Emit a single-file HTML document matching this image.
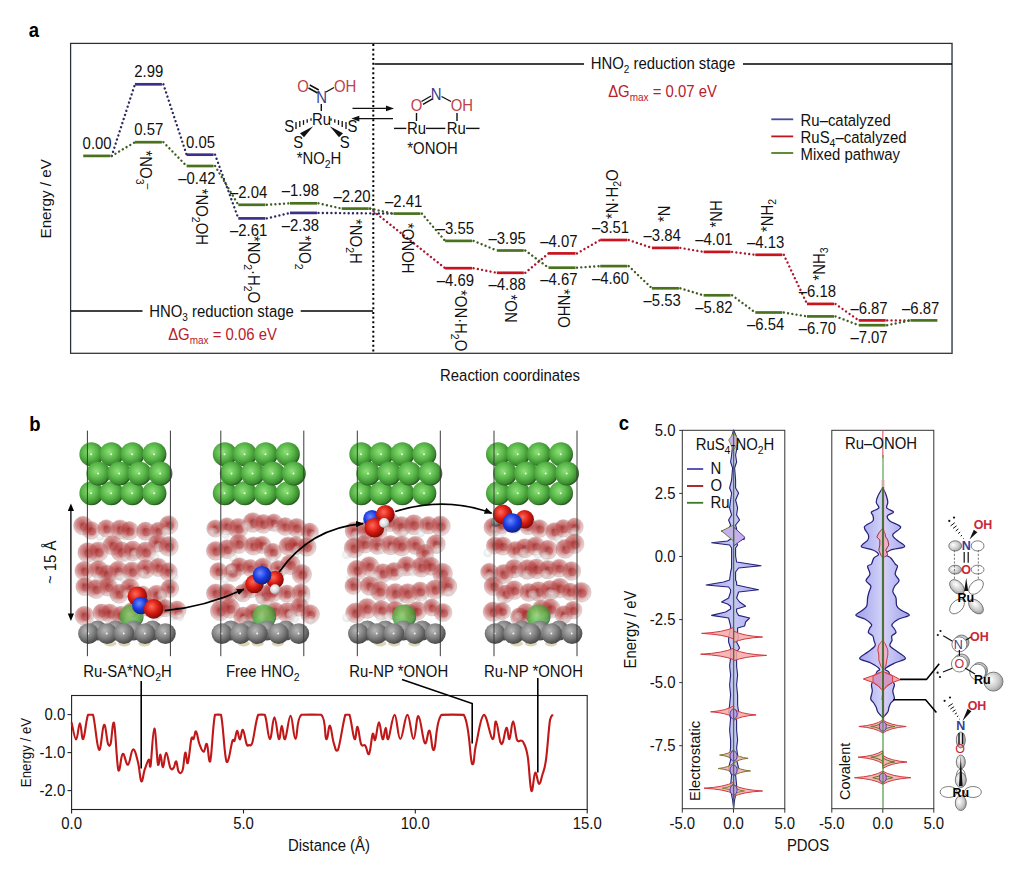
<!DOCTYPE html>
<html><head><meta charset="utf-8"><style>
html,body{margin:0;padding:0;background:#fff;}
svg{display:block;}
text{font-family:"Liberation Sans",sans-serif;}
</style></head><body>
<svg width="1024" height="888" viewBox="0 0 1024 888" font-family="Liberation Sans, sans-serif">
<rect width="1024" height="888" fill="#fff"/>
<text transform="translate(34.0,36.9) scale(1,1.05)" font-size="18.5" text-anchor="middle" fill="#000" stroke="#000" stroke-width="0" font-weight="bold" >a</text>
<rect x="70.6" y="43.4" width="881.5" height="309.9" fill="none" stroke="#2a3038" stroke-width="1.25"/>
<line x1="952.1" y1="44" x2="952.1" y2="352.6" stroke="#6a7078" stroke-width="1.5"/>
<line x1="373.3" y1="44" x2="373.3" y2="352" stroke="#000" stroke-width="2" stroke-dasharray="2 2.7"/>
<line x1="374.5" y1="64" x2="584" y2="64" stroke="#000" stroke-width="1.6"/>
<line x1="743" y1="64" x2="952" y2="64" stroke="#000" stroke-width="1.6"/>
<text transform="translate(663.0,69.2) scale(1,1.05)" font-size="14.9" text-anchor="middle" fill="#111" stroke="#111" stroke-width="0" font-weight="normal" >HNO<tspan font-size="10" dy="4">2</tspan><tspan dy="-4">​</tspan> reduction stage</text>
<text transform="translate(662.5,96.5) scale(1,1.05)" font-size="14.9" text-anchor="middle" fill="#b8202a" stroke="#b8202a" stroke-width="0" font-weight="normal" >ΔG<tspan font-size="10" dy="4">max</tspan><tspan dy="-4">​</tspan> = 0.07 eV</text>
<line x1="71" y1="311" x2="142.5" y2="311" stroke="#000" stroke-width="1.6"/>
<line x1="300.7" y1="311" x2="373" y2="311" stroke="#000" stroke-width="1.6"/>
<text transform="translate(221.5,316.6) scale(1,1.05)" font-size="14.9" text-anchor="middle" fill="#111" stroke="#111" stroke-width="0" font-weight="normal" >HNO<tspan font-size="10" dy="4">3</tspan><tspan dy="-4">​</tspan> reduction stage</text>
<text transform="translate(222.5,339.5) scale(1,1.05)" font-size="14.9" text-anchor="middle" fill="#b8202a" stroke="#b8202a" stroke-width="0" font-weight="normal" >ΔG<tspan font-size="10" dy="4">max</tspan><tspan dy="-4">​</tspan> = 0.06 eV</text>
<text transform="translate(50.6,198.8) rotate(-90)" font-size="15.2" text-anchor="middle" fill="#111">Energy / eV</text>
<text transform="translate(510.0,380.5) scale(1,1.05)" font-size="14.9" text-anchor="middle" fill="#111" stroke="#111" stroke-width="0" font-weight="normal" >Reaction coordinates</text>
<line x1="370.2" y1="208.6" x2="445.1" y2="268.2" stroke="#a81830" stroke-width="2.4" stroke-linecap="round" stroke-dasharray="0.01 4.3"/>
<line x1="473.6" y1="268.2" x2="496.8" y2="272.8" stroke="#a81830" stroke-width="2.4" stroke-linecap="round" stroke-dasharray="0.01 4.3"/>
<line x1="525.3" y1="272.8" x2="548.5" y2="253.4" stroke="#a81830" stroke-width="2.4" stroke-linecap="round" stroke-dasharray="0.01 4.3"/>
<line x1="577.0" y1="253.4" x2="600.2" y2="240.0" stroke="#a81830" stroke-width="2.4" stroke-linecap="round" stroke-dasharray="0.01 4.3"/>
<line x1="628.7" y1="240.0" x2="651.9" y2="247.9" stroke="#a81830" stroke-width="2.4" stroke-linecap="round" stroke-dasharray="0.01 4.3"/>
<line x1="680.4" y1="247.9" x2="703.6" y2="251.9" stroke="#a81830" stroke-width="2.4" stroke-linecap="round" stroke-dasharray="0.01 4.3"/>
<line x1="732.1" y1="251.9" x2="755.3" y2="254.8" stroke="#a81830" stroke-width="2.4" stroke-linecap="round" stroke-dasharray="0.01 4.3"/>
<line x1="783.8" y1="254.8" x2="807.0" y2="303.9" stroke="#a81830" stroke-width="2.4" stroke-linecap="round" stroke-dasharray="0.01 4.3"/>
<line x1="835.5" y1="303.9" x2="858.7" y2="320.4" stroke="#a81830" stroke-width="2.4" stroke-linecap="round" stroke-dasharray="0.01 4.3"/>
<line x1="887.2" y1="320.4" x2="910.4" y2="320.4" stroke="#a81830" stroke-width="2.4" stroke-linecap="round" stroke-dasharray="0.01 4.3"/>
<line x1="445.1" y1="268.2" x2="472.1" y2="268.2" stroke="#c8141e" stroke-width="2.7"/>
<line x1="496.8" y1="272.8" x2="523.8" y2="272.8" stroke="#c8141e" stroke-width="2.7"/>
<line x1="548.5" y1="253.4" x2="575.5" y2="253.4" stroke="#c8141e" stroke-width="2.7"/>
<line x1="600.2" y1="240.0" x2="627.2" y2="240.0" stroke="#c8141e" stroke-width="2.7"/>
<line x1="651.9" y1="247.9" x2="678.9" y2="247.9" stroke="#c8141e" stroke-width="2.7"/>
<line x1="703.6" y1="251.9" x2="730.6" y2="251.9" stroke="#c8141e" stroke-width="2.7"/>
<line x1="755.3" y1="254.8" x2="782.3" y2="254.8" stroke="#c8141e" stroke-width="2.7"/>
<line x1="807.0" y1="303.9" x2="834.0" y2="303.9" stroke="#c8141e" stroke-width="2.7"/>
<line x1="858.7" y1="320.4" x2="885.7" y2="320.4" stroke="#c8141e" stroke-width="2.7"/>
<line x1="111.7" y1="155.9" x2="134.9" y2="84.3" stroke="#2a2a62" stroke-width="2.4" stroke-linecap="round" stroke-dasharray="0.01 4.3"/>
<line x1="163.4" y1="84.3" x2="186.6" y2="154.7" stroke="#2a2a62" stroke-width="2.4" stroke-linecap="round" stroke-dasharray="0.01 4.3"/>
<line x1="215.1" y1="154.7" x2="238.3" y2="218.4" stroke="#2a2a62" stroke-width="2.4" stroke-linecap="round" stroke-dasharray="0.01 4.3"/>
<line x1="266.8" y1="218.4" x2="290.0" y2="212.9" stroke="#2a2a62" stroke-width="2.4" stroke-linecap="round" stroke-dasharray="0.01 4.3"/>
<line x1="318.5" y1="212.9" x2="393.4" y2="213.6" stroke="#2a2a62" stroke-width="2.4" stroke-linecap="round" stroke-dasharray="0.01 4.3"/>
<line x1="134.9" y1="84.3" x2="161.9" y2="84.3" stroke="#3b2f8c" stroke-width="2.7"/>
<line x1="186.6" y1="154.7" x2="213.6" y2="154.7" stroke="#3b2f8c" stroke-width="2.7"/>
<line x1="238.3" y1="218.4" x2="265.3" y2="218.4" stroke="#3b2f8c" stroke-width="2.7"/>
<line x1="290.0" y1="212.9" x2="317.0" y2="212.9" stroke="#3b2f8c" stroke-width="2.7"/>
<line x1="111.7" y1="155.9" x2="134.9" y2="142.2" stroke="#3e5c22" stroke-width="2.4" stroke-linecap="round" stroke-dasharray="0.01 4.3"/>
<line x1="163.4" y1="142.2" x2="186.6" y2="166.0" stroke="#3e5c22" stroke-width="2.4" stroke-linecap="round" stroke-dasharray="0.01 4.3"/>
<line x1="215.1" y1="166.0" x2="238.3" y2="204.8" stroke="#3e5c22" stroke-width="2.4" stroke-linecap="round" stroke-dasharray="0.01 4.3"/>
<line x1="266.8" y1="204.8" x2="290.0" y2="203.3" stroke="#3e5c22" stroke-width="2.4" stroke-linecap="round" stroke-dasharray="0.01 4.3"/>
<line x1="318.5" y1="203.3" x2="341.7" y2="208.6" stroke="#3e5c22" stroke-width="2.4" stroke-linecap="round" stroke-dasharray="0.01 4.3"/>
<line x1="370.2" y1="208.6" x2="393.4" y2="213.6" stroke="#3e5c22" stroke-width="2.4" stroke-linecap="round" stroke-dasharray="0.01 4.3"/>
<line x1="421.9" y1="213.6" x2="445.1" y2="240.9" stroke="#3e5c22" stroke-width="2.4" stroke-linecap="round" stroke-dasharray="0.01 4.3"/>
<line x1="473.6" y1="240.9" x2="496.8" y2="250.5" stroke="#3e5c22" stroke-width="2.4" stroke-linecap="round" stroke-dasharray="0.01 4.3"/>
<line x1="525.3" y1="250.5" x2="548.5" y2="267.7" stroke="#3e5c22" stroke-width="2.4" stroke-linecap="round" stroke-dasharray="0.01 4.3"/>
<line x1="577.0" y1="267.7" x2="600.2" y2="266.1" stroke="#3e5c22" stroke-width="2.4" stroke-linecap="round" stroke-dasharray="0.01 4.3"/>
<line x1="628.7" y1="266.1" x2="651.9" y2="288.3" stroke="#3e5c22" stroke-width="2.4" stroke-linecap="round" stroke-dasharray="0.01 4.3"/>
<line x1="680.4" y1="288.3" x2="703.6" y2="295.3" stroke="#3e5c22" stroke-width="2.4" stroke-linecap="round" stroke-dasharray="0.01 4.3"/>
<line x1="732.1" y1="295.3" x2="755.3" y2="312.5" stroke="#3e5c22" stroke-width="2.4" stroke-linecap="round" stroke-dasharray="0.01 4.3"/>
<line x1="783.8" y1="312.5" x2="807.0" y2="316.4" stroke="#3e5c22" stroke-width="2.4" stroke-linecap="round" stroke-dasharray="0.01 4.3"/>
<line x1="835.5" y1="316.4" x2="858.7" y2="325.2" stroke="#3e5c22" stroke-width="2.4" stroke-linecap="round" stroke-dasharray="0.01 4.3"/>
<line x1="887.2" y1="325.2" x2="910.4" y2="320.4" stroke="#3e5c22" stroke-width="2.4" stroke-linecap="round" stroke-dasharray="0.01 4.3"/>
<line x1="83.2" y1="155.9" x2="110.2" y2="155.9" stroke="#4a721e" stroke-width="2.7"/>
<line x1="134.9" y1="142.2" x2="161.9" y2="142.2" stroke="#4a721e" stroke-width="2.7"/>
<line x1="186.6" y1="166.0" x2="213.6" y2="166.0" stroke="#4a721e" stroke-width="2.7"/>
<line x1="238.3" y1="204.8" x2="265.3" y2="204.8" stroke="#4a721e" stroke-width="2.7"/>
<line x1="290.0" y1="203.3" x2="317.0" y2="203.3" stroke="#4a721e" stroke-width="2.7"/>
<line x1="341.7" y1="208.6" x2="368.7" y2="208.6" stroke="#4a721e" stroke-width="2.7"/>
<line x1="393.4" y1="213.6" x2="420.4" y2="213.6" stroke="#4a721e" stroke-width="2.7"/>
<line x1="445.1" y1="240.9" x2="472.1" y2="240.9" stroke="#4a721e" stroke-width="2.7"/>
<line x1="496.8" y1="250.5" x2="523.8" y2="250.5" stroke="#4a721e" stroke-width="2.7"/>
<line x1="548.5" y1="267.7" x2="575.5" y2="267.7" stroke="#4a721e" stroke-width="2.7"/>
<line x1="600.2" y1="266.1" x2="627.2" y2="266.1" stroke="#4a721e" stroke-width="2.7"/>
<line x1="651.9" y1="288.3" x2="678.9" y2="288.3" stroke="#4a721e" stroke-width="2.7"/>
<line x1="703.6" y1="295.3" x2="730.6" y2="295.3" stroke="#4a721e" stroke-width="2.7"/>
<line x1="755.3" y1="312.5" x2="782.3" y2="312.5" stroke="#4a721e" stroke-width="2.7"/>
<line x1="807.0" y1="316.4" x2="834.0" y2="316.4" stroke="#4a721e" stroke-width="2.7"/>
<line x1="858.7" y1="325.2" x2="885.7" y2="325.2" stroke="#4a721e" stroke-width="2.7"/>
<line x1="910.4" y1="320.4" x2="937.4" y2="320.4" stroke="#4a721e" stroke-width="2.7"/>
<text transform="translate(97.1,149.0) scale(1,1.05)" font-size="14.9" text-anchor="middle" fill="#111" stroke="#111" stroke-width="0" font-weight="normal" >0.00</text>
<text transform="translate(148.8,77.4) scale(1,1.05)" font-size="14.9" text-anchor="middle" fill="#111" stroke="#111" stroke-width="0" font-weight="normal" >2.99</text>
<text transform="translate(148.8,135.3) scale(1,1.05)" font-size="14.9" text-anchor="middle" fill="#111" stroke="#111" stroke-width="0" font-weight="normal" >0.57</text>
<text transform="translate(200.5,147.8) scale(1,1.05)" font-size="14.9" text-anchor="middle" fill="#111" stroke="#111" stroke-width="0" font-weight="normal" >0.05</text>
<text transform="translate(196.9,183.6) scale(1,1.05)" font-size="14.9" text-anchor="middle" fill="#111" stroke="#111" stroke-width="0" font-weight="normal" >–0.42</text>
<text transform="translate(248.6,197.9) scale(1,1.05)" font-size="14.9" text-anchor="middle" fill="#111" stroke="#111" stroke-width="0" font-weight="normal" >–2.04</text>
<text transform="translate(248.6,236.0) scale(1,1.05)" font-size="14.9" text-anchor="middle" fill="#111" stroke="#111" stroke-width="0" font-weight="normal" >–2.61</text>
<text transform="translate(300.3,196.4) scale(1,1.05)" font-size="14.9" text-anchor="middle" fill="#111" stroke="#111" stroke-width="0" font-weight="normal" >–1.98</text>
<text transform="translate(300.3,230.5) scale(1,1.05)" font-size="14.9" text-anchor="middle" fill="#111" stroke="#111" stroke-width="0" font-weight="normal" >–2.38</text>
<text transform="translate(352.0,201.7) scale(1,1.05)" font-size="14.9" text-anchor="middle" fill="#111" stroke="#111" stroke-width="0" font-weight="normal" >–2.20</text>
<text transform="translate(403.7,206.7) scale(1,1.05)" font-size="14.9" text-anchor="middle" fill="#111" stroke="#111" stroke-width="0" font-weight="normal" >–2.41</text>
<text transform="translate(455.4,234.0) scale(1,1.05)" font-size="14.9" text-anchor="middle" fill="#111" stroke="#111" stroke-width="0" font-weight="normal" >–3.55</text>
<text transform="translate(455.4,285.8) scale(1,1.05)" font-size="14.9" text-anchor="middle" fill="#111" stroke="#111" stroke-width="0" font-weight="normal" >–4.69</text>
<text transform="translate(507.1,243.6) scale(1,1.05)" font-size="14.9" text-anchor="middle" fill="#111" stroke="#111" stroke-width="0" font-weight="normal" >–3.95</text>
<text transform="translate(507.1,290.4) scale(1,1.05)" font-size="14.9" text-anchor="middle" fill="#111" stroke="#111" stroke-width="0" font-weight="normal" >–4.88</text>
<text transform="translate(558.8,246.5) scale(1,1.05)" font-size="14.9" text-anchor="middle" fill="#111" stroke="#111" stroke-width="0" font-weight="normal" >–4.07</text>
<text transform="translate(558.8,285.3) scale(1,1.05)" font-size="14.9" text-anchor="middle" fill="#111" stroke="#111" stroke-width="0" font-weight="normal" >–4.67</text>
<text transform="translate(610.5,233.1) scale(1,1.05)" font-size="14.9" text-anchor="middle" fill="#111" stroke="#111" stroke-width="0" font-weight="normal" >–3.51</text>
<text transform="translate(610.5,283.7) scale(1,1.05)" font-size="14.9" text-anchor="middle" fill="#111" stroke="#111" stroke-width="0" font-weight="normal" >–4.60</text>
<text transform="translate(662.2,241.0) scale(1,1.05)" font-size="14.9" text-anchor="middle" fill="#111" stroke="#111" stroke-width="0" font-weight="normal" >–3.84</text>
<text transform="translate(662.2,305.9) scale(1,1.05)" font-size="14.9" text-anchor="middle" fill="#111" stroke="#111" stroke-width="0" font-weight="normal" >–5.53</text>
<text transform="translate(713.9,245.0) scale(1,1.05)" font-size="14.9" text-anchor="middle" fill="#111" stroke="#111" stroke-width="0" font-weight="normal" >–4.01</text>
<text transform="translate(713.9,312.9) scale(1,1.05)" font-size="14.9" text-anchor="middle" fill="#111" stroke="#111" stroke-width="0" font-weight="normal" >–5.82</text>
<text transform="translate(765.6,247.9) scale(1,1.05)" font-size="14.9" text-anchor="middle" fill="#111" stroke="#111" stroke-width="0" font-weight="normal" >–4.13</text>
<text transform="translate(765.6,330.1) scale(1,1.05)" font-size="14.9" text-anchor="middle" fill="#111" stroke="#111" stroke-width="0" font-weight="normal" >–6.54</text>
<text transform="translate(817.3,297.0) scale(1,1.05)" font-size="14.9" text-anchor="middle" fill="#111" stroke="#111" stroke-width="0" font-weight="normal" >–6.18</text>
<text transform="translate(817.3,334.0) scale(1,1.05)" font-size="14.9" text-anchor="middle" fill="#111" stroke="#111" stroke-width="0" font-weight="normal" >–6.70</text>
<text transform="translate(869.0,313.5) scale(1,1.05)" font-size="14.9" text-anchor="middle" fill="#111" stroke="#111" stroke-width="0" font-weight="normal" >–6.87</text>
<text transform="translate(869.0,342.8) scale(1,1.05)" font-size="14.9" text-anchor="middle" fill="#111" stroke="#111" stroke-width="0" font-weight="normal" >–7.07</text>
<text transform="translate(920.7,313.5) scale(1,1.05)" font-size="14.9" text-anchor="middle" fill="#111" stroke="#111" stroke-width="0" font-weight="normal" >–6.87</text>
<text transform="translate(140.0,150.5) rotate(90) scale(1,1.05)" font-size="14.9" text-anchor="start" fill="#111" stroke="#111" stroke-width="0">*NO<tspan font-size="10.5" dy="3.5">3</tspan><tspan font-size="10.5" dy="-8" dx="-1">–</tspan></text>
<text transform="translate(195.6,188.7) rotate(90) scale(1,1.05)" font-size="14.9" text-anchor="start" fill="#111" stroke="#111" stroke-width="0">*NO<tspan font-size="10.5" dy="3.5">2</tspan><tspan dy="-3.5">​</tspan>OH</text>
<text transform="translate(247.5,236.0) rotate(90) scale(1,1.05)" font-size="14.9" text-anchor="start" fill="#111" stroke="#111" stroke-width="0">*NO<tspan font-size="10.5" dy="3.5">2</tspan><tspan dy="-3.5">​</tspan>·H<tspan font-size="10.5" dy="3.5">2</tspan><tspan dy="-3.5">​</tspan>O</text>
<text transform="translate(298.5,235.5) rotate(90) scale(1,1.05)" font-size="14.9" text-anchor="start" fill="#111" stroke="#111" stroke-width="0">*NO<tspan font-size="10.5" dy="3.5">2</tspan><tspan dy="-3.5">​</tspan></text>
<text transform="translate(350.0,219.0) rotate(90) scale(1,1.05)" font-size="14.9" text-anchor="start" fill="#111" stroke="#111" stroke-width="0">*NO<tspan font-size="10.5" dy="3.5">2</tspan><tspan dy="-3.5">​</tspan>H</text>
<text transform="translate(402.0,223.0) rotate(90) scale(1,1.05)" font-size="14.9" text-anchor="start" fill="#111" stroke="#111" stroke-width="0">*ONOH</text>
<text transform="translate(455.0,290.0) rotate(90) scale(1,1.05)" font-size="14.9" text-anchor="start" fill="#111" stroke="#111" stroke-width="0">*ON·H<tspan font-size="10.5" dy="3.5">2</tspan><tspan dy="-3.5">​</tspan>O</text>
<text transform="translate(505.0,294.5) rotate(90) scale(1,1.05)" font-size="14.9" text-anchor="start" fill="#111" stroke="#111" stroke-width="0">*ON</text>
<text transform="translate(557.5,289.0) rotate(90) scale(1,1.05)" font-size="14.9" text-anchor="start" fill="#111" stroke="#111" stroke-width="0">*NHO</text>
<text transform="translate(617.5,219.0) rotate(-90) scale(1,1.05)" font-size="14.9" text-anchor="start" fill="#111" stroke="#111" stroke-width="0">*N·H<tspan font-size="10.5" dy="3.5">2</tspan><tspan dy="-3.5">​</tspan>O</text>
<text transform="translate(669.5,222.0) rotate(-90) scale(1,1.05)" font-size="14.9" text-anchor="start" fill="#111" stroke="#111" stroke-width="0">*N</text>
<text transform="translate(721.5,227.5) rotate(-90) scale(1,1.05)" font-size="14.9" text-anchor="start" fill="#111" stroke="#111" stroke-width="0">*NH</text>
<text transform="translate(772.5,232.0) rotate(-90) scale(1,1.05)" font-size="14.9" text-anchor="start" fill="#111" stroke="#111" stroke-width="0">*NH<tspan font-size="10.5" dy="3.5">2</tspan><tspan dy="-3.5">​</tspan></text>
<text transform="translate(824.8,280.5) rotate(-90) scale(1,1.05)" font-size="14.9" text-anchor="start" fill="#111" stroke="#111" stroke-width="0">*NH<tspan font-size="10.5" dy="3.5">3</tspan><tspan dy="-3.5">​</tspan></text>
<line x1="771.3" y1="119.3" x2="793.2" y2="119.3" stroke="#4a4a9a" stroke-width="1.8"/>
<text transform="translate(800.6,125.9) scale(1,1.05)" font-size="14.9" text-anchor="start" fill="#111" stroke="#111" stroke-width="0" font-weight="normal" >Ru–catalyzed</text>
<line x1="771.3" y1="136.4" x2="793.2" y2="136.4" stroke="#c0141e" stroke-width="1.8"/>
<text transform="translate(800.6,143.0) scale(1,1.05)" font-size="14.9" text-anchor="start" fill="#111" stroke="#111" stroke-width="0" font-weight="normal" >RuS<tspan font-size="10.5" dy="3.5">4</tspan><tspan dy="-3.5">​</tspan>–catalyzed</text>
<line x1="771.3" y1="153.0" x2="793.2" y2="153.0" stroke="#4f7f22" stroke-width="1.8"/>
<text transform="translate(800.6,159.6) scale(1,1.05)" font-size="14.9" text-anchor="start" fill="#111" stroke="#111" stroke-width="0" font-weight="normal" >Mixed pathway</text>
<text transform="translate(303.1,91.8) scale(1,1.05)" font-size="14.9" text-anchor="middle" fill="#c04048" stroke="#c04048" stroke-width="0" font-weight="normal" >O</text>
<text transform="translate(321.6,102.8) scale(1,1.05)" font-size="14.9" text-anchor="middle" fill="#3a3a88" stroke="#3a3a88" stroke-width="0" font-weight="normal" >N</text>
<text transform="translate(345.2,91.8) scale(1,1.05)" font-size="14.9" text-anchor="middle" fill="#c04048" stroke="#c04048" stroke-width="0" font-weight="normal" >OH</text>
<line x1="308.5" y1="88" x2="317.5" y2="93" stroke="#111" stroke-width="1.5"/>
<line x1="309.8" y1="85" x2="318.8" y2="90" stroke="#111" stroke-width="1.5"/>
<line x1="326" y1="92" x2="334" y2="87.5" stroke="#111" stroke-width="1.4"/>
<line x1="321.3" y1="104" x2="321.3" y2="111" stroke="#111" stroke-width="1.4"/>
<text transform="translate(321.5,125.0) scale(1,1.05)" font-size="14.9" text-anchor="middle" fill="#111" stroke="#111" stroke-width="0" font-weight="normal" >Ru</text>
<text transform="translate(289.1,132.2) scale(1,1.05)" font-size="14.9" text-anchor="middle" fill="#111" stroke="#111" stroke-width="0" font-weight="normal" >S</text>
<text transform="translate(352.5,132.2) scale(1,1.05)" font-size="14.9" text-anchor="middle" fill="#111" stroke="#111" stroke-width="0" font-weight="normal" >S</text>
<text transform="translate(298.3,147.5) scale(1,1.05)" font-size="14.9" text-anchor="middle" fill="#111" stroke="#111" stroke-width="0" font-weight="normal" >S</text>
<text transform="translate(344.6,147.5) scale(1,1.05)" font-size="14.9" text-anchor="middle" fill="#111" stroke="#111" stroke-width="0" font-weight="normal" >S</text>
<line x1="296.0" y1="121.9" x2="296.0" y2="129.1" stroke="#111" stroke-width="1.3"/>
<line x1="299.8" y1="121.0" x2="299.8" y2="127.0" stroke="#111" stroke-width="1.3"/>
<line x1="303.5" y1="120.1" x2="303.5" y2="124.9" stroke="#111" stroke-width="1.3"/>
<line x1="307.2" y1="119.2" x2="307.2" y2="122.8" stroke="#111" stroke-width="1.3"/>
<line x1="311.0" y1="118.3" x2="311.0" y2="120.7" stroke="#111" stroke-width="1.3"/>
<line x1="346.0" y1="121.9" x2="346.0" y2="129.1" stroke="#111" stroke-width="1.3"/>
<line x1="342.2" y1="121.0" x2="342.2" y2="127.0" stroke="#111" stroke-width="1.3"/>
<line x1="338.5" y1="120.1" x2="338.5" y2="124.9" stroke="#111" stroke-width="1.3"/>
<line x1="334.8" y1="119.2" x2="334.8" y2="122.8" stroke="#111" stroke-width="1.3"/>
<line x1="331.0" y1="118.3" x2="331.0" y2="120.7" stroke="#111" stroke-width="1.3"/>
<polygon points="313.2,126.2 304,137.2 300,133.2" fill="#111"/>
<polygon points="329.8,126.2 339,137.2 343,133.2" fill="#111"/>
<text transform="translate(319.0,164.0) scale(1,1.05)" font-size="14.9" text-anchor="middle" fill="#111" stroke="#111" stroke-width="0" font-weight="normal" >*NO<tspan font-size="10.5" dy="4">2</tspan><tspan dy="-4">​</tspan>H</text>
<line x1="352.5" y1="108.4" x2="390" y2="108.4" stroke="#111" stroke-width="1.3"/>
<polygon points="394,108.4 386,105.5 386,111.3" fill="#111"/>
<line x1="355.5" y1="118.6" x2="393" y2="118.6" stroke="#111" stroke-width="1.3"/>
<polygon points="351.3,118.6 359.3,115.7 359.3,121.5" fill="#111"/>
<text transform="translate(416.6,111.3) scale(1,1.05)" font-size="14.9" text-anchor="middle" fill="#c04048" stroke="#c04048" stroke-width="0" font-weight="normal" >O</text>
<text transform="translate(436.2,100.3) scale(1,1.05)" font-size="14.9" text-anchor="middle" fill="#3a3a88" stroke="#3a3a88" stroke-width="0" font-weight="normal" >N</text>
<text transform="translate(461.8,111.3) scale(1,1.05)" font-size="14.9" text-anchor="middle" fill="#c04048" stroke="#c04048" stroke-width="0" font-weight="normal" >OH</text>
<line x1="421.5" y1="101.5" x2="431" y2="96" stroke="#111" stroke-width="1.4"/>
<line x1="423" y1="104.3" x2="432.5" y2="98.8" stroke="#111" stroke-width="1.4"/>
<line x1="441.5" y1="96.5" x2="451" y2="101.5" stroke="#111" stroke-width="1.4"/>
<line x1="416.5" y1="113" x2="416.5" y2="121" stroke="#111" stroke-width="1.4"/>
<line x1="457" y1="113" x2="457" y2="121" stroke="#111" stroke-width="1.4"/>
<line x1="394" y1="128.4" x2="406.3" y2="128.4" stroke="#111" stroke-width="1.4"/>
<line x1="426" y1="128.4" x2="445.3" y2="128.4" stroke="#111" stroke-width="1.4"/>
<line x1="466" y1="128.4" x2="479.5" y2="128.4" stroke="#111" stroke-width="1.4"/>
<text transform="translate(416.6,133.8) scale(1,1.05)" font-size="14.9" text-anchor="middle" fill="#111" stroke="#111" stroke-width="0" font-weight="normal" >Ru</text>
<text transform="translate(456.2,133.8) scale(1,1.05)" font-size="14.9" text-anchor="middle" fill="#111" stroke="#111" stroke-width="0" font-weight="normal" >Ru</text>
<text transform="translate(432.5,154.0) scale(1,1.05)" font-size="14.9" text-anchor="middle" fill="#111" stroke="#111" stroke-width="0" font-weight="normal" >*ONOH</text>
<defs>
<radialGradient id="gG" cx="0.42" cy="0.4" r="0.62"><stop offset="0" stop-color="#8ee078"/><stop offset="0.5" stop-color="#5ab84a"/><stop offset="0.85" stop-color="#3a8a2e"/><stop offset="1" stop-color="#1e4a18"/></radialGradient>
<radialGradient id="gR" cx="0.4" cy="0.38" r="0.7"><stop offset="0" stop-color="#ff6a5a"/><stop offset="0.5" stop-color="#d81a10"/><stop offset="1" stop-color="#6a0808"/></radialGradient>
<radialGradient id="gB" cx="0.4" cy="0.38" r="0.7"><stop offset="0" stop-color="#6a8aff"/><stop offset="0.5" stop-color="#1a3ae0"/><stop offset="1" stop-color="#0a1a6a"/></radialGradient>
<radialGradient id="gW" cx="0.4" cy="0.38" r="0.7"><stop offset="0" stop-color="#ffffff"/><stop offset="0.6" stop-color="#d8d8d8"/><stop offset="1" stop-color="#808080"/></radialGradient>
<radialGradient id="gK" cx="0.4" cy="0.35" r="0.7"><stop offset="0" stop-color="#b8b8b8"/><stop offset="0.5" stop-color="#828282"/><stop offset="1" stop-color="#404040"/></radialGradient>
<radialGradient id="gWat" cx="0.45" cy="0.42" r="0.6"><stop offset="0" stop-color="#a01c1c" stop-opacity="0.8"/><stop offset="0.55" stop-color="#b84040" stop-opacity="0.58"/><stop offset="1" stop-color="#c8a0a0" stop-opacity="0.3"/></radialGradient>
<radialGradient id="gH" cx="0.45" cy="0.45" r="0.6"><stop offset="0" stop-color="#ffffff" stop-opacity="0.55"/><stop offset="1" stop-color="#b8b8b8" stop-opacity="0.3"/></radialGradient>
<radialGradient id="gLobe" cx="0.35" cy="0.4" r="0.75"><stop offset="0" stop-color="#ffffff"/><stop offset="0.6" stop-color="#c8c8c8"/><stop offset="1" stop-color="#8a8a8a"/></radialGradient>
<marker id="ah" markerWidth="8" markerHeight="8" refX="7" refY="4" orient="auto" markerUnits="userSpaceOnUse"><path d="M0,0.8 L8,4 L0,7.2 Z" fill="#000"/></marker>
<linearGradient id="gBlueR" gradientUnits="userSpaceOnUse" x1="853" y1="0" x2="913" y2="0"><stop offset="0" stop-color="#9a9ae8"/><stop offset="0.5" stop-color="#d4d4fa"/><stop offset="1" stop-color="#9a9ae8"/></linearGradient>
<linearGradient id="gBlueL" gradientUnits="userSpaceOnUse" x1="703" y1="0" x2="765" y2="0"><stop offset="0" stop-color="#a0a0ea"/><stop offset="0.5" stop-color="#c8c8f8"/><stop offset="1" stop-color="#a0a0ea"/></linearGradient>
</defs>
<text transform="translate(35.0,430.5) scale(1,1.05)" font-size="18.5" text-anchor="middle" fill="#000" stroke="#000" stroke-width="0" font-weight="bold" >b</text>
<circle cx="91.4" cy="454.2" r="12.0" fill="url(#gG)"/>
<circle cx="91.1" cy="454.2" r="1" fill="#fff" opacity="0.85"/>
<circle cx="111.4" cy="454.2" r="12.0" fill="url(#gG)"/>
<circle cx="111.1" cy="454.2" r="1" fill="#fff" opacity="0.85"/>
<circle cx="132.4" cy="454.2" r="12.0" fill="url(#gG)"/>
<circle cx="132.1" cy="454.2" r="1" fill="#fff" opacity="0.85"/>
<circle cx="154.4" cy="454.2" r="12.0" fill="url(#gG)"/>
<circle cx="154.1" cy="454.2" r="1" fill="#fff" opacity="0.85"/>
<circle cx="91.4" cy="493.3" r="12.0" fill="url(#gG)"/>
<circle cx="91.1" cy="493.3" r="1" fill="#fff" opacity="0.85"/>
<circle cx="111.4" cy="493.3" r="12.0" fill="url(#gG)"/>
<circle cx="111.1" cy="493.3" r="1" fill="#fff" opacity="0.85"/>
<circle cx="132.4" cy="493.3" r="12.0" fill="url(#gG)"/>
<circle cx="132.1" cy="493.3" r="1" fill="#fff" opacity="0.85"/>
<circle cx="154.4" cy="493.3" r="12.0" fill="url(#gG)"/>
<circle cx="154.1" cy="493.3" r="1" fill="#fff" opacity="0.85"/>
<circle cx="98.4" cy="473.6" r="12.0" fill="url(#gG)"/>
<circle cx="98.1" cy="473.6" r="1" fill="#fff" opacity="0.85"/>
<circle cx="119.4" cy="473.6" r="12.0" fill="url(#gG)"/>
<circle cx="119.1" cy="473.6" r="1" fill="#fff" opacity="0.85"/>
<circle cx="139.4" cy="473.6" r="12.0" fill="url(#gG)"/>
<circle cx="139.1" cy="473.6" r="1" fill="#fff" opacity="0.85"/>
<circle cx="160.4" cy="473.6" r="12.0" fill="url(#gG)"/>
<circle cx="160.1" cy="473.6" r="1" fill="#fff" opacity="0.85"/>
<circle cx="83.0" cy="525.7" r="9.4" fill="url(#gWat)" stroke="#a08080" stroke-opacity="0.35" stroke-width="0.8"/>
<circle cx="84.0" cy="526.7" r="4.2" fill="#9a2020" opacity="0.28"/>
<circle cx="91.1" cy="530.4" r="8.9" fill="url(#gWat)" stroke="#a08080" stroke-opacity="0.35" stroke-width="0.8"/>
<circle cx="92.1" cy="531.4" r="4.0" fill="#9a2020" opacity="0.28"/>
<circle cx="100.1" cy="536.2" r="4.5" fill="url(#gH)"/>
<circle cx="106.3" cy="528.4" r="8.7" fill="url(#gWat)" stroke="#a08080" stroke-opacity="0.35" stroke-width="0.8"/>
<circle cx="107.3" cy="529.4" r="3.9" fill="#9a2020" opacity="0.28"/>
<circle cx="120.0" cy="529.4" r="9.5" fill="url(#gWat)" stroke="#a08080" stroke-opacity="0.35" stroke-width="0.8"/>
<circle cx="121.0" cy="530.4" r="4.3" fill="#9a2020" opacity="0.28"/>
<circle cx="124.6" cy="536.0" r="4.5" fill="url(#gH)"/>
<circle cx="129.2" cy="530.7" r="9.2" fill="url(#gWat)" stroke="#a08080" stroke-opacity="0.35" stroke-width="0.8"/>
<circle cx="130.2" cy="531.7" r="4.1" fill="#9a2020" opacity="0.28"/>
<circle cx="145.5" cy="531.2" r="9.1" fill="url(#gWat)" stroke="#a08080" stroke-opacity="0.35" stroke-width="0.8"/>
<circle cx="146.5" cy="532.2" r="4.1" fill="#9a2020" opacity="0.28"/>
<circle cx="158.1" cy="530.8" r="8.6" fill="url(#gWat)" stroke="#a08080" stroke-opacity="0.35" stroke-width="0.8"/>
<circle cx="159.1" cy="531.8" r="3.9" fill="#9a2020" opacity="0.28"/>
<circle cx="153.1" cy="539.6" r="4.5" fill="url(#gH)"/>
<circle cx="168.7" cy="525.0" r="9.3" fill="url(#gWat)" stroke="#a08080" stroke-opacity="0.35" stroke-width="0.8"/>
<circle cx="169.7" cy="526.0" r="4.2" fill="#9a2020" opacity="0.28"/>
<circle cx="166.0" cy="531.5" r="4.5" fill="url(#gH)"/>
<circle cx="87.6" cy="552.5" r="9.8" fill="url(#gWat)" stroke="#a08080" stroke-opacity="0.35" stroke-width="0.8"/>
<circle cx="88.6" cy="553.5" r="4.4" fill="#9a2020" opacity="0.28"/>
<circle cx="98.2" cy="551.8" r="9.9" fill="url(#gWat)" stroke="#a08080" stroke-opacity="0.35" stroke-width="0.8"/>
<circle cx="99.2" cy="552.8" r="4.5" fill="#9a2020" opacity="0.28"/>
<circle cx="112.6" cy="545.3" r="9.7" fill="url(#gWat)" stroke="#a08080" stroke-opacity="0.35" stroke-width="0.8"/>
<circle cx="113.6" cy="546.3" r="4.4" fill="#9a2020" opacity="0.28"/>
<circle cx="121.2" cy="551.7" r="10.0" fill="url(#gWat)" stroke="#a08080" stroke-opacity="0.35" stroke-width="0.8"/>
<circle cx="122.2" cy="552.7" r="4.5" fill="#9a2020" opacity="0.28"/>
<circle cx="126.6" cy="557.2" r="4.5" fill="url(#gH)"/>
<circle cx="132.7" cy="550.9" r="9.8" fill="url(#gWat)" stroke="#a08080" stroke-opacity="0.35" stroke-width="0.8"/>
<circle cx="133.7" cy="551.9" r="4.4" fill="#9a2020" opacity="0.28"/>
<circle cx="134.8" cy="554.2" r="4.5" fill="url(#gH)"/>
<circle cx="145.7" cy="552.0" r="10.0" fill="url(#gWat)" stroke="#a08080" stroke-opacity="0.35" stroke-width="0.8"/>
<circle cx="146.7" cy="553.0" r="4.5" fill="#9a2020" opacity="0.28"/>
<circle cx="154.7" cy="556.9" r="4.5" fill="url(#gH)"/>
<circle cx="157.1" cy="543.5" r="8.8" fill="url(#gWat)" stroke="#a08080" stroke-opacity="0.35" stroke-width="0.8"/>
<circle cx="158.1" cy="544.5" r="4.0" fill="#9a2020" opacity="0.28"/>
<circle cx="159.1" cy="547.5" r="4.5" fill="url(#gH)"/>
<circle cx="168.4" cy="546.3" r="9.9" fill="url(#gWat)" stroke="#a08080" stroke-opacity="0.35" stroke-width="0.8"/>
<circle cx="169.4" cy="547.3" r="4.5" fill="#9a2020" opacity="0.28"/>
<circle cx="84.2" cy="570.8" r="9.4" fill="url(#gWat)" stroke="#a08080" stroke-opacity="0.35" stroke-width="0.8"/>
<circle cx="85.2" cy="571.8" r="4.2" fill="#9a2020" opacity="0.28"/>
<circle cx="98.4" cy="569.5" r="9.1" fill="url(#gWat)" stroke="#a08080" stroke-opacity="0.35" stroke-width="0.8"/>
<circle cx="99.4" cy="570.5" r="4.1" fill="#9a2020" opacity="0.28"/>
<circle cx="106.8" cy="574.2" r="9.3" fill="url(#gWat)" stroke="#a08080" stroke-opacity="0.35" stroke-width="0.8"/>
<circle cx="107.8" cy="575.2" r="4.2" fill="#9a2020" opacity="0.28"/>
<circle cx="98.0" cy="579.7" r="4.5" fill="url(#gH)"/>
<circle cx="118.0" cy="570.6" r="9.4" fill="url(#gWat)" stroke="#a08080" stroke-opacity="0.35" stroke-width="0.8"/>
<circle cx="119.0" cy="571.6" r="4.3" fill="#9a2020" opacity="0.28"/>
<circle cx="120.3" cy="576.4" r="4.5" fill="url(#gH)"/>
<circle cx="132.0" cy="571.5" r="9.6" fill="url(#gWat)" stroke="#a08080" stroke-opacity="0.35" stroke-width="0.8"/>
<circle cx="133.0" cy="572.5" r="4.3" fill="#9a2020" opacity="0.28"/>
<circle cx="124.1" cy="578.5" r="4.5" fill="url(#gH)"/>
<circle cx="145.5" cy="569.0" r="9.4" fill="url(#gWat)" stroke="#a08080" stroke-opacity="0.35" stroke-width="0.8"/>
<circle cx="146.5" cy="570.0" r="4.2" fill="#9a2020" opacity="0.28"/>
<circle cx="143.0" cy="573.8" r="4.5" fill="url(#gH)"/>
<circle cx="158.3" cy="567.4" r="9.1" fill="url(#gWat)" stroke="#a08080" stroke-opacity="0.35" stroke-width="0.8"/>
<circle cx="159.3" cy="568.4" r="4.1" fill="#9a2020" opacity="0.28"/>
<circle cx="168.3" cy="571.8" r="9.0" fill="url(#gWat)" stroke="#a08080" stroke-opacity="0.35" stroke-width="0.8"/>
<circle cx="169.3" cy="572.8" r="4.0" fill="#9a2020" opacity="0.28"/>
<circle cx="173.8" cy="576.2" r="4.5" fill="url(#gH)"/>
<circle cx="84.8" cy="586.6" r="9.0" fill="url(#gWat)" stroke="#a08080" stroke-opacity="0.35" stroke-width="0.8"/>
<circle cx="85.8" cy="587.6" r="4.0" fill="#9a2020" opacity="0.28"/>
<circle cx="90.8" cy="592.2" r="4.5" fill="url(#gH)"/>
<circle cx="96.1" cy="589.0" r="9.5" fill="url(#gWat)" stroke="#a08080" stroke-opacity="0.35" stroke-width="0.8"/>
<circle cx="97.1" cy="590.0" r="4.3" fill="#9a2020" opacity="0.28"/>
<circle cx="108.1" cy="586.8" r="9.3" fill="url(#gWat)" stroke="#a08080" stroke-opacity="0.35" stroke-width="0.8"/>
<circle cx="109.1" cy="587.8" r="4.2" fill="#9a2020" opacity="0.28"/>
<circle cx="113.7" cy="594.8" r="4.5" fill="url(#gH)"/>
<circle cx="119.1" cy="593.7" r="9.5" fill="url(#gWat)" stroke="#a08080" stroke-opacity="0.35" stroke-width="0.8"/>
<circle cx="120.1" cy="594.7" r="4.3" fill="#9a2020" opacity="0.28"/>
<circle cx="129.9" cy="588.5" r="9.7" fill="url(#gWat)" stroke="#a08080" stroke-opacity="0.35" stroke-width="0.8"/>
<circle cx="130.9" cy="589.5" r="4.4" fill="#9a2020" opacity="0.28"/>
<circle cx="127.1" cy="594.0" r="4.5" fill="url(#gH)"/>
<circle cx="142.7" cy="594.8" r="8.7" fill="url(#gWat)" stroke="#a08080" stroke-opacity="0.35" stroke-width="0.8"/>
<circle cx="143.7" cy="595.8" r="3.9" fill="#9a2020" opacity="0.28"/>
<circle cx="150.6" cy="603.1" r="4.5" fill="url(#gH)"/>
<circle cx="156.7" cy="595.1" r="9.9" fill="url(#gWat)" stroke="#a08080" stroke-opacity="0.35" stroke-width="0.8"/>
<circle cx="157.7" cy="596.1" r="4.5" fill="#9a2020" opacity="0.28"/>
<circle cx="161.1" cy="603.1" r="4.5" fill="url(#gH)"/>
<circle cx="169.7" cy="588.5" r="9.0" fill="url(#gWat)" stroke="#a08080" stroke-opacity="0.35" stroke-width="0.8"/>
<circle cx="170.7" cy="589.5" r="4.1" fill="#9a2020" opacity="0.28"/>
<circle cx="161.9" cy="595.0" r="4.5" fill="url(#gH)"/>
<circle cx="84.4" cy="615.8" r="9.5" fill="url(#gWat)" stroke="#a08080" stroke-opacity="0.35" stroke-width="0.8"/>
<circle cx="85.4" cy="616.8" r="4.3" fill="#9a2020" opacity="0.28"/>
<circle cx="101.4" cy="612.6" r="8.5" fill="url(#gWat)" stroke="#a08080" stroke-opacity="0.35" stroke-width="0.8"/>
<circle cx="102.4" cy="613.6" r="3.8" fill="#9a2020" opacity="0.28"/>
<circle cx="109.7" cy="613.4" r="9.3" fill="url(#gWat)" stroke="#a08080" stroke-opacity="0.35" stroke-width="0.8"/>
<circle cx="110.7" cy="614.4" r="4.2" fill="#9a2020" opacity="0.28"/>
<circle cx="117.6" cy="620.1" r="4.5" fill="url(#gH)"/>
<circle cx="120.9" cy="615.4" r="9.2" fill="url(#gWat)" stroke="#a08080" stroke-opacity="0.35" stroke-width="0.8"/>
<circle cx="121.9" cy="616.4" r="4.1" fill="#9a2020" opacity="0.28"/>
<circle cx="132.1" cy="612.1" r="9.7" fill="url(#gWat)" stroke="#a08080" stroke-opacity="0.35" stroke-width="0.8"/>
<circle cx="133.1" cy="613.1" r="4.4" fill="#9a2020" opacity="0.28"/>
<circle cx="137.3" cy="620.7" r="4.5" fill="url(#gH)"/>
<circle cx="147.8" cy="606.9" r="9.4" fill="url(#gWat)" stroke="#a08080" stroke-opacity="0.35" stroke-width="0.8"/>
<circle cx="148.8" cy="607.9" r="4.2" fill="#9a2020" opacity="0.28"/>
<circle cx="155.8" cy="609.5" r="9.3" fill="url(#gWat)" stroke="#a08080" stroke-opacity="0.35" stroke-width="0.8"/>
<circle cx="156.8" cy="610.5" r="4.2" fill="#9a2020" opacity="0.28"/>
<circle cx="155.3" cy="617.1" r="4.5" fill="url(#gH)"/>
<circle cx="165.0" cy="608.1" r="8.7" fill="url(#gWat)" stroke="#a08080" stroke-opacity="0.35" stroke-width="0.8"/>
<circle cx="166.0" cy="609.1" r="3.9" fill="#9a2020" opacity="0.28"/>
<circle cx="173.5" cy="616.2" r="4.5" fill="url(#gH)"/>
<circle cx="177.1" cy="610.0" r="9.0" fill="url(#gWat)" stroke="#a08080" stroke-opacity="0.35" stroke-width="0.8"/>
<circle cx="178.1" cy="611.0" r="4.0" fill="#9a2020" opacity="0.28"/>
<circle cx="179.7" cy="616.5" r="4.5" fill="url(#gH)"/>
<g opacity="0.8">
<circle cx="131.6" cy="616.5" r="12.0" fill="url(#gG)"/>
</g>
<ellipse cx="110.4" cy="643.5" rx="6" ry="3" fill="#a08830" opacity="0.35"/>
<ellipse cx="124.4" cy="643.5" rx="6" ry="3" fill="#a08830" opacity="0.35"/>
<ellipse cx="144.4" cy="643.5" rx="6" ry="3" fill="#a08830" opacity="0.35"/>
<circle cx="97.4" cy="630.5" r="10.0" fill="url(#gK)"/>
<circle cx="115.4" cy="630.5" r="10.0" fill="url(#gK)"/>
<circle cx="133.4" cy="630.5" r="10.0" fill="url(#gK)"/>
<circle cx="152.4" cy="630.5" r="10.0" fill="url(#gK)"/>
<circle cx="88.5" cy="633.6" r="10.4" fill="url(#gK)"/>
<circle cx="88.2" cy="633.6" r="1" fill="#fff" opacity="0.85"/>
<circle cx="107.1" cy="633.6" r="10.4" fill="url(#gK)"/>
<circle cx="106.8" cy="633.6" r="1" fill="#fff" opacity="0.85"/>
<circle cx="124.0" cy="633.6" r="10.4" fill="url(#gK)"/>
<circle cx="123.7" cy="633.6" r="1" fill="#fff" opacity="0.85"/>
<circle cx="145.1" cy="633.6" r="10.4" fill="url(#gK)"/>
<circle cx="144.8" cy="633.6" r="1" fill="#fff" opacity="0.85"/>
<circle cx="165.4" cy="633.6" r="10.4" fill="url(#gK)"/>
<circle cx="165.1" cy="633.6" r="1" fill="#fff" opacity="0.85"/>
<circle cx="137.4" cy="596.2" r="9.8" fill="url(#gR)"/>
<circle cx="140.9" cy="605.5" r="8.8" fill="url(#gB)"/>
<circle cx="153.6" cy="608.9" r="9.8" fill="url(#gR)"/>
<line x1="87.4" y1="430.6" x2="87.4" y2="656.2" stroke="#3a3a3a" stroke-width="1"/>
<line x1="170.4" y1="430.6" x2="170.4" y2="656.2" stroke="#3a3a3a" stroke-width="1"/>
<circle cx="224.8" cy="454.2" r="12.0" fill="url(#gG)"/>
<circle cx="224.5" cy="454.2" r="1" fill="#fff" opacity="0.85"/>
<circle cx="244.8" cy="454.2" r="12.0" fill="url(#gG)"/>
<circle cx="244.5" cy="454.2" r="1" fill="#fff" opacity="0.85"/>
<circle cx="265.8" cy="454.2" r="12.0" fill="url(#gG)"/>
<circle cx="265.5" cy="454.2" r="1" fill="#fff" opacity="0.85"/>
<circle cx="287.8" cy="454.2" r="12.0" fill="url(#gG)"/>
<circle cx="287.5" cy="454.2" r="1" fill="#fff" opacity="0.85"/>
<circle cx="224.8" cy="493.3" r="12.0" fill="url(#gG)"/>
<circle cx="224.5" cy="493.3" r="1" fill="#fff" opacity="0.85"/>
<circle cx="244.8" cy="493.3" r="12.0" fill="url(#gG)"/>
<circle cx="244.5" cy="493.3" r="1" fill="#fff" opacity="0.85"/>
<circle cx="265.8" cy="493.3" r="12.0" fill="url(#gG)"/>
<circle cx="265.5" cy="493.3" r="1" fill="#fff" opacity="0.85"/>
<circle cx="287.8" cy="493.3" r="12.0" fill="url(#gG)"/>
<circle cx="287.5" cy="493.3" r="1" fill="#fff" opacity="0.85"/>
<circle cx="231.8" cy="473.6" r="12.0" fill="url(#gG)"/>
<circle cx="231.5" cy="473.6" r="1" fill="#fff" opacity="0.85"/>
<circle cx="252.8" cy="473.6" r="12.0" fill="url(#gG)"/>
<circle cx="252.5" cy="473.6" r="1" fill="#fff" opacity="0.85"/>
<circle cx="272.8" cy="473.6" r="12.0" fill="url(#gG)"/>
<circle cx="272.5" cy="473.6" r="1" fill="#fff" opacity="0.85"/>
<circle cx="293.8" cy="473.6" r="12.0" fill="url(#gG)"/>
<circle cx="293.5" cy="473.6" r="1" fill="#fff" opacity="0.85"/>
<circle cx="215.3" cy="528.5" r="8.6" fill="url(#gWat)" stroke="#a08080" stroke-opacity="0.35" stroke-width="0.8"/>
<circle cx="216.3" cy="529.5" r="3.9" fill="#9a2020" opacity="0.28"/>
<circle cx="212.9" cy="531.9" r="4.5" fill="url(#gH)"/>
<circle cx="226.9" cy="526.3" r="8.6" fill="url(#gWat)" stroke="#a08080" stroke-opacity="0.35" stroke-width="0.8"/>
<circle cx="227.9" cy="527.3" r="3.9" fill="#9a2020" opacity="0.28"/>
<circle cx="225.6" cy="534.3" r="4.5" fill="url(#gH)"/>
<circle cx="238.2" cy="528.3" r="9.9" fill="url(#gWat)" stroke="#a08080" stroke-opacity="0.35" stroke-width="0.8"/>
<circle cx="239.2" cy="529.3" r="4.5" fill="#9a2020" opacity="0.28"/>
<circle cx="252.8" cy="522.5" r="9.8" fill="url(#gWat)" stroke="#a08080" stroke-opacity="0.35" stroke-width="0.8"/>
<circle cx="253.8" cy="523.5" r="4.4" fill="#9a2020" opacity="0.28"/>
<circle cx="246.4" cy="526.2" r="4.5" fill="url(#gH)"/>
<circle cx="263.4" cy="523.8" r="9.4" fill="url(#gWat)" stroke="#a08080" stroke-opacity="0.35" stroke-width="0.8"/>
<circle cx="264.4" cy="524.8" r="4.2" fill="#9a2020" opacity="0.28"/>
<circle cx="273.8" cy="522.6" r="8.6" fill="url(#gWat)" stroke="#a08080" stroke-opacity="0.35" stroke-width="0.8"/>
<circle cx="274.8" cy="523.6" r="3.9" fill="#9a2020" opacity="0.28"/>
<circle cx="277.0" cy="528.2" r="4.5" fill="url(#gH)"/>
<circle cx="285.2" cy="526.5" r="8.9" fill="url(#gWat)" stroke="#a08080" stroke-opacity="0.35" stroke-width="0.8"/>
<circle cx="286.2" cy="527.5" r="4.0" fill="#9a2020" opacity="0.28"/>
<circle cx="296.6" cy="527.7" r="9.3" fill="url(#gWat)" stroke="#a08080" stroke-opacity="0.35" stroke-width="0.8"/>
<circle cx="297.6" cy="528.7" r="4.2" fill="#9a2020" opacity="0.28"/>
<circle cx="309.7" cy="531.8" r="8.7" fill="url(#gWat)" stroke="#a08080" stroke-opacity="0.35" stroke-width="0.8"/>
<circle cx="310.7" cy="532.8" r="3.9" fill="#9a2020" opacity="0.28"/>
<circle cx="314.3" cy="535.7" r="4.5" fill="url(#gH)"/>
<circle cx="215.7" cy="550.8" r="9.4" fill="url(#gWat)" stroke="#a08080" stroke-opacity="0.35" stroke-width="0.8"/>
<circle cx="216.7" cy="551.8" r="4.2" fill="#9a2020" opacity="0.28"/>
<circle cx="227.1" cy="549.1" r="9.4" fill="url(#gWat)" stroke="#a08080" stroke-opacity="0.35" stroke-width="0.8"/>
<circle cx="228.1" cy="550.1" r="4.2" fill="#9a2020" opacity="0.28"/>
<circle cx="233.2" cy="557.8" r="4.5" fill="url(#gH)"/>
<circle cx="238.8" cy="543.8" r="9.6" fill="url(#gWat)" stroke="#a08080" stroke-opacity="0.35" stroke-width="0.8"/>
<circle cx="239.8" cy="544.8" r="4.3" fill="#9a2020" opacity="0.28"/>
<circle cx="253.4" cy="546.0" r="9.1" fill="url(#gWat)" stroke="#a08080" stroke-opacity="0.35" stroke-width="0.8"/>
<circle cx="254.4" cy="547.0" r="4.1" fill="#9a2020" opacity="0.28"/>
<circle cx="262.1" cy="544.9" r="8.7" fill="url(#gWat)" stroke="#a08080" stroke-opacity="0.35" stroke-width="0.8"/>
<circle cx="263.1" cy="545.9" r="3.9" fill="#9a2020" opacity="0.28"/>
<circle cx="266.9" cy="548.7" r="4.5" fill="url(#gH)"/>
<circle cx="272.8" cy="551.9" r="8.6" fill="url(#gWat)" stroke="#a08080" stroke-opacity="0.35" stroke-width="0.8"/>
<circle cx="273.8" cy="552.9" r="3.9" fill="#9a2020" opacity="0.28"/>
<circle cx="273.7" cy="560.2" r="4.5" fill="url(#gH)"/>
<circle cx="288.0" cy="546.0" r="9.1" fill="url(#gWat)" stroke="#a08080" stroke-opacity="0.35" stroke-width="0.8"/>
<circle cx="289.0" cy="547.0" r="4.1" fill="#9a2020" opacity="0.28"/>
<circle cx="294.9" cy="554.7" r="4.5" fill="url(#gH)"/>
<circle cx="295.8" cy="545.5" r="8.9" fill="url(#gWat)" stroke="#a08080" stroke-opacity="0.35" stroke-width="0.8"/>
<circle cx="296.8" cy="546.5" r="4.0" fill="#9a2020" opacity="0.28"/>
<circle cx="297.4" cy="550.1" r="4.5" fill="url(#gH)"/>
<circle cx="306.8" cy="546.9" r="9.3" fill="url(#gWat)" stroke="#a08080" stroke-opacity="0.35" stroke-width="0.8"/>
<circle cx="307.8" cy="547.9" r="4.2" fill="#9a2020" opacity="0.28"/>
<circle cx="218.4" cy="571.2" r="8.6" fill="url(#gWat)" stroke="#a08080" stroke-opacity="0.35" stroke-width="0.8"/>
<circle cx="219.4" cy="572.2" r="3.9" fill="#9a2020" opacity="0.28"/>
<circle cx="232.5" cy="572.4" r="9.1" fill="url(#gWat)" stroke="#a08080" stroke-opacity="0.35" stroke-width="0.8"/>
<circle cx="233.5" cy="573.4" r="4.1" fill="#9a2020" opacity="0.28"/>
<circle cx="225.4" cy="579.2" r="4.5" fill="url(#gH)"/>
<circle cx="239.5" cy="566.5" r="8.7" fill="url(#gWat)" stroke="#a08080" stroke-opacity="0.35" stroke-width="0.8"/>
<circle cx="240.5" cy="567.5" r="3.9" fill="#9a2020" opacity="0.28"/>
<circle cx="231.5" cy="569.5" r="4.5" fill="url(#gH)"/>
<circle cx="250.3" cy="568.0" r="8.5" fill="url(#gWat)" stroke="#a08080" stroke-opacity="0.35" stroke-width="0.8"/>
<circle cx="251.3" cy="569.0" r="3.8" fill="#9a2020" opacity="0.28"/>
<circle cx="262.9" cy="566.9" r="9.0" fill="url(#gWat)" stroke="#a08080" stroke-opacity="0.35" stroke-width="0.8"/>
<circle cx="263.9" cy="567.9" r="4.1" fill="#9a2020" opacity="0.28"/>
<circle cx="256.1" cy="575.0" r="4.5" fill="url(#gH)"/>
<circle cx="278.2" cy="569.2" r="8.6" fill="url(#gWat)" stroke="#a08080" stroke-opacity="0.35" stroke-width="0.8"/>
<circle cx="279.2" cy="570.2" r="3.9" fill="#9a2020" opacity="0.28"/>
<circle cx="275.3" cy="573.8" r="4.5" fill="url(#gH)"/>
<circle cx="290.3" cy="564.6" r="9.9" fill="url(#gWat)" stroke="#a08080" stroke-opacity="0.35" stroke-width="0.8"/>
<circle cx="291.3" cy="565.6" r="4.5" fill="#9a2020" opacity="0.28"/>
<circle cx="283.9" cy="570.9" r="4.5" fill="url(#gH)"/>
<circle cx="301.8" cy="574.2" r="9.8" fill="url(#gWat)" stroke="#a08080" stroke-opacity="0.35" stroke-width="0.8"/>
<circle cx="302.8" cy="575.2" r="4.4" fill="#9a2020" opacity="0.28"/>
<circle cx="215.7" cy="593.3" r="9.3" fill="url(#gWat)" stroke="#a08080" stroke-opacity="0.35" stroke-width="0.8"/>
<circle cx="216.7" cy="594.3" r="4.2" fill="#9a2020" opacity="0.28"/>
<circle cx="227.2" cy="593.7" r="10.0" fill="url(#gWat)" stroke="#a08080" stroke-opacity="0.35" stroke-width="0.8"/>
<circle cx="228.2" cy="594.7" r="4.5" fill="#9a2020" opacity="0.28"/>
<circle cx="242.8" cy="593.0" r="8.8" fill="url(#gWat)" stroke="#a08080" stroke-opacity="0.35" stroke-width="0.8"/>
<circle cx="243.8" cy="594.0" r="4.0" fill="#9a2020" opacity="0.28"/>
<circle cx="240.2" cy="596.2" r="4.5" fill="url(#gH)"/>
<circle cx="250.8" cy="588.2" r="9.5" fill="url(#gWat)" stroke="#a08080" stroke-opacity="0.35" stroke-width="0.8"/>
<circle cx="251.8" cy="589.2" r="4.3" fill="#9a2020" opacity="0.28"/>
<circle cx="265.2" cy="595.5" r="9.9" fill="url(#gWat)" stroke="#a08080" stroke-opacity="0.35" stroke-width="0.8"/>
<circle cx="266.2" cy="596.5" r="4.5" fill="#9a2020" opacity="0.28"/>
<circle cx="260.2" cy="599.8" r="4.5" fill="url(#gH)"/>
<circle cx="273.0" cy="591.8" r="9.9" fill="url(#gWat)" stroke="#a08080" stroke-opacity="0.35" stroke-width="0.8"/>
<circle cx="274.0" cy="592.8" r="4.4" fill="#9a2020" opacity="0.28"/>
<circle cx="286.8" cy="593.6" r="8.6" fill="url(#gWat)" stroke="#a08080" stroke-opacity="0.35" stroke-width="0.8"/>
<circle cx="287.8" cy="594.6" r="3.9" fill="#9a2020" opacity="0.28"/>
<circle cx="300.9" cy="593.1" r="9.2" fill="url(#gWat)" stroke="#a08080" stroke-opacity="0.35" stroke-width="0.8"/>
<circle cx="301.9" cy="594.1" r="4.1" fill="#9a2020" opacity="0.28"/>
<circle cx="306.1" cy="598.1" r="4.5" fill="url(#gH)"/>
<circle cx="220.2" cy="610.8" r="9.9" fill="url(#gWat)" stroke="#a08080" stroke-opacity="0.35" stroke-width="0.8"/>
<circle cx="221.2" cy="611.8" r="4.5" fill="#9a2020" opacity="0.28"/>
<circle cx="229.8" cy="608.3" r="9.9" fill="url(#gWat)" stroke="#a08080" stroke-opacity="0.35" stroke-width="0.8"/>
<circle cx="230.8" cy="609.3" r="4.4" fill="#9a2020" opacity="0.28"/>
<circle cx="243.2" cy="616.6" r="9.5" fill="url(#gWat)" stroke="#a08080" stroke-opacity="0.35" stroke-width="0.8"/>
<circle cx="244.2" cy="617.6" r="4.3" fill="#9a2020" opacity="0.28"/>
<circle cx="244.1" cy="620.4" r="4.5" fill="url(#gH)"/>
<circle cx="253.8" cy="613.3" r="9.3" fill="url(#gWat)" stroke="#a08080" stroke-opacity="0.35" stroke-width="0.8"/>
<circle cx="254.8" cy="614.3" r="4.2" fill="#9a2020" opacity="0.28"/>
<circle cx="265.2" cy="615.1" r="8.8" fill="url(#gWat)" stroke="#a08080" stroke-opacity="0.35" stroke-width="0.8"/>
<circle cx="266.2" cy="616.1" r="4.0" fill="#9a2020" opacity="0.28"/>
<circle cx="261.4" cy="619.5" r="4.5" fill="url(#gH)"/>
<circle cx="275.1" cy="611.0" r="8.7" fill="url(#gWat)" stroke="#a08080" stroke-opacity="0.35" stroke-width="0.8"/>
<circle cx="276.1" cy="612.0" r="3.9" fill="#9a2020" opacity="0.28"/>
<circle cx="287.3" cy="612.6" r="9.9" fill="url(#gWat)" stroke="#a08080" stroke-opacity="0.35" stroke-width="0.8"/>
<circle cx="288.3" cy="613.6" r="4.4" fill="#9a2020" opacity="0.28"/>
<circle cx="294.8" cy="618.6" r="4.5" fill="url(#gH)"/>
<circle cx="299.7" cy="607.0" r="9.2" fill="url(#gWat)" stroke="#a08080" stroke-opacity="0.35" stroke-width="0.8"/>
<circle cx="300.7" cy="608.0" r="4.1" fill="#9a2020" opacity="0.28"/>
<circle cx="290.7" cy="614.8" r="4.5" fill="url(#gH)"/>
<circle cx="310.2" cy="614.1" r="9.3" fill="url(#gWat)" stroke="#a08080" stroke-opacity="0.35" stroke-width="0.8"/>
<circle cx="311.2" cy="615.1" r="4.2" fill="#9a2020" opacity="0.28"/>
<circle cx="310.5" cy="620.4" r="4.5" fill="url(#gH)"/>
<g opacity="0.8">
<circle cx="264.2" cy="616.5" r="12.0" fill="url(#gG)"/>
</g>
<ellipse cx="243.8" cy="643.5" rx="6" ry="3" fill="#a08830" opacity="0.35"/>
<ellipse cx="257.8" cy="643.5" rx="6" ry="3" fill="#a08830" opacity="0.35"/>
<ellipse cx="277.8" cy="643.5" rx="6" ry="3" fill="#a08830" opacity="0.35"/>
<circle cx="230.8" cy="630.5" r="10.0" fill="url(#gK)"/>
<circle cx="248.8" cy="630.5" r="10.0" fill="url(#gK)"/>
<circle cx="266.8" cy="630.5" r="10.0" fill="url(#gK)"/>
<circle cx="285.8" cy="630.5" r="10.0" fill="url(#gK)"/>
<circle cx="221.9" cy="633.6" r="10.4" fill="url(#gK)"/>
<circle cx="221.6" cy="633.6" r="1" fill="#fff" opacity="0.85"/>
<circle cx="240.5" cy="633.6" r="10.4" fill="url(#gK)"/>
<circle cx="240.2" cy="633.6" r="1" fill="#fff" opacity="0.85"/>
<circle cx="257.4" cy="633.6" r="10.4" fill="url(#gK)"/>
<circle cx="257.1" cy="633.6" r="1" fill="#fff" opacity="0.85"/>
<circle cx="278.5" cy="633.6" r="10.4" fill="url(#gK)"/>
<circle cx="278.2" cy="633.6" r="1" fill="#fff" opacity="0.85"/>
<circle cx="298.8" cy="633.6" r="10.4" fill="url(#gK)"/>
<circle cx="298.5" cy="633.6" r="1" fill="#fff" opacity="0.85"/>
<circle cx="254.5" cy="583.8" r="9.3" fill="url(#gR)"/>
<circle cx="275.0" cy="579.5" r="8.8" fill="url(#gR)"/>
<circle cx="275.0" cy="589.2" r="5.0" fill="url(#gW)"/>
<circle cx="262.0" cy="575.2" r="9.3" fill="url(#gB)"/>
<line x1="220.8" y1="430.6" x2="220.8" y2="656.2" stroke="#3a3a3a" stroke-width="1"/>
<line x1="303.8" y1="430.6" x2="303.8" y2="656.2" stroke="#3a3a3a" stroke-width="1"/>
<circle cx="361.3" cy="454.2" r="12.0" fill="url(#gG)"/>
<circle cx="361.0" cy="454.2" r="1" fill="#fff" opacity="0.85"/>
<circle cx="381.3" cy="454.2" r="12.0" fill="url(#gG)"/>
<circle cx="381.0" cy="454.2" r="1" fill="#fff" opacity="0.85"/>
<circle cx="402.3" cy="454.2" r="12.0" fill="url(#gG)"/>
<circle cx="402.0" cy="454.2" r="1" fill="#fff" opacity="0.85"/>
<circle cx="424.3" cy="454.2" r="12.0" fill="url(#gG)"/>
<circle cx="424.0" cy="454.2" r="1" fill="#fff" opacity="0.85"/>
<circle cx="361.3" cy="493.3" r="12.0" fill="url(#gG)"/>
<circle cx="361.0" cy="493.3" r="1" fill="#fff" opacity="0.85"/>
<circle cx="381.3" cy="493.3" r="12.0" fill="url(#gG)"/>
<circle cx="381.0" cy="493.3" r="1" fill="#fff" opacity="0.85"/>
<circle cx="402.3" cy="493.3" r="12.0" fill="url(#gG)"/>
<circle cx="402.0" cy="493.3" r="1" fill="#fff" opacity="0.85"/>
<circle cx="424.3" cy="493.3" r="12.0" fill="url(#gG)"/>
<circle cx="424.0" cy="493.3" r="1" fill="#fff" opacity="0.85"/>
<circle cx="368.3" cy="473.6" r="12.0" fill="url(#gG)"/>
<circle cx="368.0" cy="473.6" r="1" fill="#fff" opacity="0.85"/>
<circle cx="389.3" cy="473.6" r="12.0" fill="url(#gG)"/>
<circle cx="389.0" cy="473.6" r="1" fill="#fff" opacity="0.85"/>
<circle cx="409.3" cy="473.6" r="12.0" fill="url(#gG)"/>
<circle cx="409.0" cy="473.6" r="1" fill="#fff" opacity="0.85"/>
<circle cx="430.3" cy="473.6" r="12.0" fill="url(#gG)"/>
<circle cx="430.0" cy="473.6" r="1" fill="#fff" opacity="0.85"/>
<circle cx="354.3" cy="531.2" r="9.2" fill="url(#gWat)" stroke="#a08080" stroke-opacity="0.35" stroke-width="0.8"/>
<circle cx="355.3" cy="532.2" r="4.1" fill="#9a2020" opacity="0.28"/>
<circle cx="355.8" cy="535.4" r="4.5" fill="url(#gH)"/>
<circle cx="366.6" cy="529.9" r="8.6" fill="url(#gWat)" stroke="#a08080" stroke-opacity="0.35" stroke-width="0.8"/>
<circle cx="367.6" cy="530.9" r="3.9" fill="#9a2020" opacity="0.28"/>
<circle cx="359.2" cy="537.8" r="4.5" fill="url(#gH)"/>
<circle cx="377.0" cy="531.8" r="9.9" fill="url(#gWat)" stroke="#a08080" stroke-opacity="0.35" stroke-width="0.8"/>
<circle cx="378.0" cy="532.8" r="4.5" fill="#9a2020" opacity="0.28"/>
<circle cx="389.9" cy="522.2" r="9.3" fill="url(#gWat)" stroke="#a08080" stroke-opacity="0.35" stroke-width="0.8"/>
<circle cx="390.9" cy="523.2" r="4.2" fill="#9a2020" opacity="0.28"/>
<circle cx="384.4" cy="526.6" r="4.5" fill="url(#gH)"/>
<circle cx="401.3" cy="526.4" r="9.8" fill="url(#gWat)" stroke="#a08080" stroke-opacity="0.35" stroke-width="0.8"/>
<circle cx="402.3" cy="527.4" r="4.4" fill="#9a2020" opacity="0.28"/>
<circle cx="403.8" cy="532.4" r="4.5" fill="url(#gH)"/>
<circle cx="413.9" cy="524.8" r="10.0" fill="url(#gWat)" stroke="#a08080" stroke-opacity="0.35" stroke-width="0.8"/>
<circle cx="414.9" cy="525.8" r="4.5" fill="#9a2020" opacity="0.28"/>
<circle cx="428.3" cy="525.2" r="8.8" fill="url(#gWat)" stroke="#a08080" stroke-opacity="0.35" stroke-width="0.8"/>
<circle cx="429.3" cy="526.2" r="4.0" fill="#9a2020" opacity="0.28"/>
<circle cx="420.5" cy="532.8" r="4.5" fill="url(#gH)"/>
<circle cx="440.4" cy="525.9" r="9.9" fill="url(#gWat)" stroke="#a08080" stroke-opacity="0.35" stroke-width="0.8"/>
<circle cx="441.4" cy="526.9" r="4.5" fill="#9a2020" opacity="0.28"/>
<circle cx="354.2" cy="547.9" r="10.0" fill="url(#gWat)" stroke="#a08080" stroke-opacity="0.35" stroke-width="0.8"/>
<circle cx="355.2" cy="548.9" r="4.5" fill="#9a2020" opacity="0.28"/>
<circle cx="346.5" cy="554.7" r="4.5" fill="url(#gH)"/>
<circle cx="364.8" cy="544.1" r="9.0" fill="url(#gWat)" stroke="#a08080" stroke-opacity="0.35" stroke-width="0.8"/>
<circle cx="365.8" cy="545.1" r="4.0" fill="#9a2020" opacity="0.28"/>
<circle cx="377.2" cy="545.7" r="8.7" fill="url(#gWat)" stroke="#a08080" stroke-opacity="0.35" stroke-width="0.8"/>
<circle cx="378.2" cy="546.7" r="3.9" fill="#9a2020" opacity="0.28"/>
<circle cx="382.5" cy="549.7" r="4.5" fill="url(#gH)"/>
<circle cx="390.7" cy="545.1" r="9.6" fill="url(#gWat)" stroke="#a08080" stroke-opacity="0.35" stroke-width="0.8"/>
<circle cx="391.7" cy="546.1" r="4.3" fill="#9a2020" opacity="0.28"/>
<circle cx="393.3" cy="548.8" r="4.5" fill="url(#gH)"/>
<circle cx="401.5" cy="545.9" r="10.0" fill="url(#gWat)" stroke="#a08080" stroke-opacity="0.35" stroke-width="0.8"/>
<circle cx="402.5" cy="546.9" r="4.5" fill="#9a2020" opacity="0.28"/>
<circle cx="415.4" cy="545.3" r="9.1" fill="url(#gWat)" stroke="#a08080" stroke-opacity="0.35" stroke-width="0.8"/>
<circle cx="416.4" cy="546.3" r="4.1" fill="#9a2020" opacity="0.28"/>
<circle cx="424.8" cy="553.1" r="8.8" fill="url(#gWat)" stroke="#a08080" stroke-opacity="0.35" stroke-width="0.8"/>
<circle cx="425.8" cy="554.1" r="4.0" fill="#9a2020" opacity="0.28"/>
<circle cx="429.7" cy="558.1" r="4.5" fill="url(#gH)"/>
<circle cx="435.9" cy="544.1" r="9.4" fill="url(#gWat)" stroke="#a08080" stroke-opacity="0.35" stroke-width="0.8"/>
<circle cx="436.9" cy="545.1" r="4.2" fill="#9a2020" opacity="0.28"/>
<circle cx="437.7" cy="549.3" r="4.5" fill="url(#gH)"/>
<circle cx="357.0" cy="570.1" r="9.8" fill="url(#gWat)" stroke="#a08080" stroke-opacity="0.35" stroke-width="0.8"/>
<circle cx="358.0" cy="571.1" r="4.4" fill="#9a2020" opacity="0.28"/>
<circle cx="350.8" cy="578.6" r="4.5" fill="url(#gH)"/>
<circle cx="369.3" cy="566.3" r="9.6" fill="url(#gWat)" stroke="#a08080" stroke-opacity="0.35" stroke-width="0.8"/>
<circle cx="370.3" cy="567.3" r="4.3" fill="#9a2020" opacity="0.28"/>
<circle cx="382.9" cy="573.2" r="9.4" fill="url(#gWat)" stroke="#a08080" stroke-opacity="0.35" stroke-width="0.8"/>
<circle cx="383.9" cy="574.2" r="4.2" fill="#9a2020" opacity="0.28"/>
<circle cx="375.8" cy="576.5" r="4.5" fill="url(#gH)"/>
<circle cx="393.9" cy="571.4" r="8.9" fill="url(#gWat)" stroke="#a08080" stroke-opacity="0.35" stroke-width="0.8"/>
<circle cx="394.9" cy="572.4" r="4.0" fill="#9a2020" opacity="0.28"/>
<circle cx="406.5" cy="566.2" r="9.6" fill="url(#gWat)" stroke="#a08080" stroke-opacity="0.35" stroke-width="0.8"/>
<circle cx="407.5" cy="567.2" r="4.3" fill="#9a2020" opacity="0.28"/>
<circle cx="401.6" cy="572.5" r="4.5" fill="url(#gH)"/>
<circle cx="421.2" cy="567.2" r="9.9" fill="url(#gWat)" stroke="#a08080" stroke-opacity="0.35" stroke-width="0.8"/>
<circle cx="422.2" cy="568.2" r="4.4" fill="#9a2020" opacity="0.28"/>
<circle cx="412.5" cy="571.8" r="4.5" fill="url(#gH)"/>
<circle cx="430.8" cy="566.2" r="9.1" fill="url(#gWat)" stroke="#a08080" stroke-opacity="0.35" stroke-width="0.8"/>
<circle cx="431.8" cy="567.2" r="4.1" fill="#9a2020" opacity="0.28"/>
<circle cx="442.5" cy="573.3" r="10.0" fill="url(#gWat)" stroke="#a08080" stroke-opacity="0.35" stroke-width="0.8"/>
<circle cx="443.5" cy="574.3" r="4.5" fill="#9a2020" opacity="0.28"/>
<circle cx="353.4" cy="586.0" r="8.5" fill="url(#gWat)" stroke="#a08080" stroke-opacity="0.35" stroke-width="0.8"/>
<circle cx="354.4" cy="587.0" r="3.8" fill="#9a2020" opacity="0.28"/>
<circle cx="369.5" cy="585.8" r="9.5" fill="url(#gWat)" stroke="#a08080" stroke-opacity="0.35" stroke-width="0.8"/>
<circle cx="370.5" cy="586.8" r="4.3" fill="#9a2020" opacity="0.28"/>
<circle cx="373.6" cy="590.7" r="4.5" fill="url(#gH)"/>
<circle cx="379.9" cy="591.1" r="9.6" fill="url(#gWat)" stroke="#a08080" stroke-opacity="0.35" stroke-width="0.8"/>
<circle cx="380.9" cy="592.1" r="4.3" fill="#9a2020" opacity="0.28"/>
<circle cx="395.4" cy="593.5" r="9.9" fill="url(#gWat)" stroke="#a08080" stroke-opacity="0.35" stroke-width="0.8"/>
<circle cx="396.4" cy="594.5" r="4.4" fill="#9a2020" opacity="0.28"/>
<circle cx="398.7" cy="601.9" r="4.5" fill="url(#gH)"/>
<circle cx="407.7" cy="593.5" r="9.8" fill="url(#gWat)" stroke="#a08080" stroke-opacity="0.35" stroke-width="0.8"/>
<circle cx="408.7" cy="594.5" r="4.4" fill="#9a2020" opacity="0.28"/>
<circle cx="420.1" cy="591.4" r="9.4" fill="url(#gWat)" stroke="#a08080" stroke-opacity="0.35" stroke-width="0.8"/>
<circle cx="421.1" cy="592.4" r="4.2" fill="#9a2020" opacity="0.28"/>
<circle cx="422.6" cy="600.4" r="4.5" fill="url(#gH)"/>
<circle cx="435.0" cy="589.5" r="9.6" fill="url(#gWat)" stroke="#a08080" stroke-opacity="0.35" stroke-width="0.8"/>
<circle cx="436.0" cy="590.5" r="4.3" fill="#9a2020" opacity="0.28"/>
<circle cx="447.2" cy="586.4" r="9.6" fill="url(#gWat)" stroke="#a08080" stroke-opacity="0.35" stroke-width="0.8"/>
<circle cx="448.2" cy="587.4" r="4.3" fill="#9a2020" opacity="0.28"/>
<circle cx="449.0" cy="592.3" r="4.5" fill="url(#gH)"/>
<circle cx="355.5" cy="612.9" r="9.9" fill="url(#gWat)" stroke="#a08080" stroke-opacity="0.35" stroke-width="0.8"/>
<circle cx="356.5" cy="613.9" r="4.4" fill="#9a2020" opacity="0.28"/>
<circle cx="346.7" cy="617.8" r="4.5" fill="url(#gH)"/>
<circle cx="367.0" cy="608.5" r="9.9" fill="url(#gWat)" stroke="#a08080" stroke-opacity="0.35" stroke-width="0.8"/>
<circle cx="368.0" cy="609.5" r="4.4" fill="#9a2020" opacity="0.28"/>
<circle cx="381.5" cy="610.1" r="9.5" fill="url(#gWat)" stroke="#a08080" stroke-opacity="0.35" stroke-width="0.8"/>
<circle cx="382.5" cy="611.1" r="4.3" fill="#9a2020" opacity="0.28"/>
<circle cx="380.3" cy="617.9" r="4.5" fill="url(#gH)"/>
<circle cx="395.1" cy="610.6" r="9.4" fill="url(#gWat)" stroke="#a08080" stroke-opacity="0.35" stroke-width="0.8"/>
<circle cx="396.1" cy="611.6" r="4.2" fill="#9a2020" opacity="0.28"/>
<circle cx="388.6" cy="616.6" r="4.5" fill="url(#gH)"/>
<circle cx="408.4" cy="613.9" r="9.9" fill="url(#gWat)" stroke="#a08080" stroke-opacity="0.35" stroke-width="0.8"/>
<circle cx="409.4" cy="614.9" r="4.5" fill="#9a2020" opacity="0.28"/>
<circle cx="402.4" cy="619.6" r="4.5" fill="url(#gH)"/>
<circle cx="416.9" cy="610.9" r="9.4" fill="url(#gWat)" stroke="#a08080" stroke-opacity="0.35" stroke-width="0.8"/>
<circle cx="417.9" cy="611.9" r="4.2" fill="#9a2020" opacity="0.28"/>
<circle cx="413.6" cy="619.0" r="4.5" fill="url(#gH)"/>
<circle cx="431.8" cy="607.5" r="8.5" fill="url(#gWat)" stroke="#a08080" stroke-opacity="0.35" stroke-width="0.8"/>
<circle cx="432.8" cy="608.5" r="3.8" fill="#9a2020" opacity="0.28"/>
<circle cx="443.0" cy="612.5" r="9.0" fill="url(#gWat)" stroke="#a08080" stroke-opacity="0.35" stroke-width="0.8"/>
<circle cx="444.0" cy="613.5" r="4.0" fill="#9a2020" opacity="0.28"/>
<g opacity="0.8">
<circle cx="404.2" cy="616.5" r="12.0" fill="url(#gG)"/>
</g>
<ellipse cx="380.3" cy="643.5" rx="6" ry="3" fill="#a08830" opacity="0.35"/>
<ellipse cx="394.3" cy="643.5" rx="6" ry="3" fill="#a08830" opacity="0.35"/>
<ellipse cx="414.3" cy="643.5" rx="6" ry="3" fill="#a08830" opacity="0.35"/>
<circle cx="367.3" cy="630.5" r="10.0" fill="url(#gK)"/>
<circle cx="385.3" cy="630.5" r="10.0" fill="url(#gK)"/>
<circle cx="403.3" cy="630.5" r="10.0" fill="url(#gK)"/>
<circle cx="422.3" cy="630.5" r="10.0" fill="url(#gK)"/>
<circle cx="358.4" cy="633.6" r="10.4" fill="url(#gK)"/>
<circle cx="358.1" cy="633.6" r="1" fill="#fff" opacity="0.85"/>
<circle cx="377.0" cy="633.6" r="10.4" fill="url(#gK)"/>
<circle cx="376.7" cy="633.6" r="1" fill="#fff" opacity="0.85"/>
<circle cx="393.9" cy="633.6" r="10.4" fill="url(#gK)"/>
<circle cx="393.6" cy="633.6" r="1" fill="#fff" opacity="0.85"/>
<circle cx="415.0" cy="633.6" r="10.4" fill="url(#gK)"/>
<circle cx="414.7" cy="633.6" r="1" fill="#fff" opacity="0.85"/>
<circle cx="435.3" cy="633.6" r="10.4" fill="url(#gK)"/>
<circle cx="435.0" cy="633.6" r="1" fill="#fff" opacity="0.85"/>
<circle cx="372.0" cy="518.8" r="8.8" fill="url(#gB)"/>
<circle cx="385.4" cy="514.4" r="9.3" fill="url(#gR)"/>
<circle cx="374.4" cy="527.8" r="9.8" fill="url(#gR)"/>
<circle cx="384.2" cy="523.0" r="5.0" fill="url(#gW)"/>
<line x1="357.3" y1="430.6" x2="357.3" y2="656.2" stroke="#3a3a3a" stroke-width="1"/>
<line x1="440.3" y1="430.6" x2="440.3" y2="656.2" stroke="#3a3a3a" stroke-width="1"/>
<circle cx="498.0" cy="454.2" r="12.0" fill="url(#gG)"/>
<circle cx="497.7" cy="454.2" r="1" fill="#fff" opacity="0.85"/>
<circle cx="518.0" cy="454.2" r="12.0" fill="url(#gG)"/>
<circle cx="517.7" cy="454.2" r="1" fill="#fff" opacity="0.85"/>
<circle cx="539.0" cy="454.2" r="12.0" fill="url(#gG)"/>
<circle cx="538.7" cy="454.2" r="1" fill="#fff" opacity="0.85"/>
<circle cx="561.0" cy="454.2" r="12.0" fill="url(#gG)"/>
<circle cx="560.7" cy="454.2" r="1" fill="#fff" opacity="0.85"/>
<circle cx="498.0" cy="493.3" r="12.0" fill="url(#gG)"/>
<circle cx="497.7" cy="493.3" r="1" fill="#fff" opacity="0.85"/>
<circle cx="518.0" cy="493.3" r="12.0" fill="url(#gG)"/>
<circle cx="517.7" cy="493.3" r="1" fill="#fff" opacity="0.85"/>
<circle cx="539.0" cy="493.3" r="12.0" fill="url(#gG)"/>
<circle cx="538.7" cy="493.3" r="1" fill="#fff" opacity="0.85"/>
<circle cx="561.0" cy="493.3" r="12.0" fill="url(#gG)"/>
<circle cx="560.7" cy="493.3" r="1" fill="#fff" opacity="0.85"/>
<circle cx="505.0" cy="473.6" r="12.0" fill="url(#gG)"/>
<circle cx="504.7" cy="473.6" r="1" fill="#fff" opacity="0.85"/>
<circle cx="526.0" cy="473.6" r="12.0" fill="url(#gG)"/>
<circle cx="525.7" cy="473.6" r="1" fill="#fff" opacity="0.85"/>
<circle cx="546.0" cy="473.6" r="12.0" fill="url(#gG)"/>
<circle cx="545.7" cy="473.6" r="1" fill="#fff" opacity="0.85"/>
<circle cx="567.0" cy="473.6" r="12.0" fill="url(#gG)"/>
<circle cx="566.7" cy="473.6" r="1" fill="#fff" opacity="0.85"/>
<circle cx="493.2" cy="527.2" r="9.3" fill="url(#gWat)" stroke="#a08080" stroke-opacity="0.35" stroke-width="0.8"/>
<circle cx="494.2" cy="528.2" r="4.2" fill="#9a2020" opacity="0.28"/>
<circle cx="502.1" cy="531.9" r="4.5" fill="url(#gH)"/>
<circle cx="501.7" cy="524.6" r="9.0" fill="url(#gWat)" stroke="#a08080" stroke-opacity="0.35" stroke-width="0.8"/>
<circle cx="502.7" cy="525.6" r="4.0" fill="#9a2020" opacity="0.28"/>
<circle cx="494.6" cy="529.6" r="4.5" fill="url(#gH)"/>
<circle cx="514.2" cy="524.0" r="8.6" fill="url(#gWat)" stroke="#a08080" stroke-opacity="0.35" stroke-width="0.8"/>
<circle cx="515.2" cy="525.0" r="3.9" fill="#9a2020" opacity="0.28"/>
<circle cx="514.9" cy="529.3" r="4.5" fill="url(#gH)"/>
<circle cx="528.0" cy="526.1" r="8.6" fill="url(#gWat)" stroke="#a08080" stroke-opacity="0.35" stroke-width="0.8"/>
<circle cx="529.0" cy="527.1" r="3.9" fill="#9a2020" opacity="0.28"/>
<circle cx="539.4" cy="528.6" r="8.9" fill="url(#gWat)" stroke="#a08080" stroke-opacity="0.35" stroke-width="0.8"/>
<circle cx="540.4" cy="529.6" r="4.0" fill="#9a2020" opacity="0.28"/>
<circle cx="554.4" cy="531.5" r="8.8" fill="url(#gWat)" stroke="#a08080" stroke-opacity="0.35" stroke-width="0.8"/>
<circle cx="555.4" cy="532.5" r="4.0" fill="#9a2020" opacity="0.28"/>
<circle cx="558.5" cy="539.3" r="4.5" fill="url(#gH)"/>
<circle cx="563.3" cy="528.3" r="8.7" fill="url(#gWat)" stroke="#a08080" stroke-opacity="0.35" stroke-width="0.8"/>
<circle cx="564.3" cy="529.3" r="3.9" fill="#9a2020" opacity="0.28"/>
<circle cx="574.6" cy="526.8" r="8.7" fill="url(#gWat)" stroke="#a08080" stroke-opacity="0.35" stroke-width="0.8"/>
<circle cx="575.6" cy="527.8" r="3.9" fill="#9a2020" opacity="0.28"/>
<circle cx="574.6" cy="532.0" r="4.5" fill="url(#gH)"/>
<circle cx="494.8" cy="545.6" r="8.5" fill="url(#gWat)" stroke="#a08080" stroke-opacity="0.35" stroke-width="0.8"/>
<circle cx="495.8" cy="546.6" r="3.8" fill="#9a2020" opacity="0.28"/>
<circle cx="487.8" cy="552.9" r="4.5" fill="url(#gH)"/>
<circle cx="502.8" cy="546.0" r="9.1" fill="url(#gWat)" stroke="#a08080" stroke-opacity="0.35" stroke-width="0.8"/>
<circle cx="503.8" cy="547.0" r="4.1" fill="#9a2020" opacity="0.28"/>
<circle cx="515.3" cy="550.0" r="8.6" fill="url(#gWat)" stroke="#a08080" stroke-opacity="0.35" stroke-width="0.8"/>
<circle cx="516.3" cy="551.0" r="3.9" fill="#9a2020" opacity="0.28"/>
<circle cx="518.7" cy="557.5" r="4.5" fill="url(#gH)"/>
<circle cx="524.8" cy="548.3" r="9.5" fill="url(#gWat)" stroke="#a08080" stroke-opacity="0.35" stroke-width="0.8"/>
<circle cx="525.8" cy="549.3" r="4.3" fill="#9a2020" opacity="0.28"/>
<circle cx="523.6" cy="552.9" r="4.5" fill="url(#gH)"/>
<circle cx="535.5" cy="546.1" r="9.2" fill="url(#gWat)" stroke="#a08080" stroke-opacity="0.35" stroke-width="0.8"/>
<circle cx="536.5" cy="547.1" r="4.1" fill="#9a2020" opacity="0.28"/>
<circle cx="537.7" cy="554.3" r="4.5" fill="url(#gH)"/>
<circle cx="547.8" cy="549.7" r="9.5" fill="url(#gWat)" stroke="#a08080" stroke-opacity="0.35" stroke-width="0.8"/>
<circle cx="548.8" cy="550.7" r="4.3" fill="#9a2020" opacity="0.28"/>
<circle cx="545.8" cy="556.6" r="4.5" fill="url(#gH)"/>
<circle cx="565.1" cy="548.9" r="9.4" fill="url(#gWat)" stroke="#a08080" stroke-opacity="0.35" stroke-width="0.8"/>
<circle cx="566.1" cy="549.9" r="4.2" fill="#9a2020" opacity="0.28"/>
<circle cx="574.3" cy="543.8" r="9.7" fill="url(#gWat)" stroke="#a08080" stroke-opacity="0.35" stroke-width="0.8"/>
<circle cx="575.3" cy="544.8" r="4.3" fill="#9a2020" opacity="0.28"/>
<circle cx="489.3" cy="571.9" r="8.7" fill="url(#gWat)" stroke="#a08080" stroke-opacity="0.35" stroke-width="0.8"/>
<circle cx="490.3" cy="572.9" r="3.9" fill="#9a2020" opacity="0.28"/>
<circle cx="489.5" cy="576.5" r="4.5" fill="url(#gH)"/>
<circle cx="503.6" cy="574.0" r="9.5" fill="url(#gWat)" stroke="#a08080" stroke-opacity="0.35" stroke-width="0.8"/>
<circle cx="504.6" cy="575.0" r="4.3" fill="#9a2020" opacity="0.28"/>
<circle cx="513.9" cy="568.7" r="9.2" fill="url(#gWat)" stroke="#a08080" stroke-opacity="0.35" stroke-width="0.8"/>
<circle cx="514.9" cy="569.7" r="4.1" fill="#9a2020" opacity="0.28"/>
<circle cx="520.2" cy="572.6" r="4.5" fill="url(#gH)"/>
<circle cx="527.4" cy="569.5" r="9.8" fill="url(#gWat)" stroke="#a08080" stroke-opacity="0.35" stroke-width="0.8"/>
<circle cx="528.4" cy="570.5" r="4.4" fill="#9a2020" opacity="0.28"/>
<circle cx="526.8" cy="574.8" r="4.5" fill="url(#gH)"/>
<circle cx="536.5" cy="568.9" r="9.8" fill="url(#gWat)" stroke="#a08080" stroke-opacity="0.35" stroke-width="0.8"/>
<circle cx="537.5" cy="569.9" r="4.4" fill="#9a2020" opacity="0.28"/>
<circle cx="548.0" cy="569.7" r="9.1" fill="url(#gWat)" stroke="#a08080" stroke-opacity="0.35" stroke-width="0.8"/>
<circle cx="549.0" cy="570.7" r="4.1" fill="#9a2020" opacity="0.28"/>
<circle cx="545.6" cy="574.6" r="4.5" fill="url(#gH)"/>
<circle cx="559.2" cy="568.1" r="8.9" fill="url(#gWat)" stroke="#a08080" stroke-opacity="0.35" stroke-width="0.8"/>
<circle cx="560.2" cy="569.1" r="4.0" fill="#9a2020" opacity="0.28"/>
<circle cx="567.8" cy="573.4" r="4.5" fill="url(#gH)"/>
<circle cx="571.4" cy="571.0" r="9.3" fill="url(#gWat)" stroke="#a08080" stroke-opacity="0.35" stroke-width="0.8"/>
<circle cx="572.4" cy="572.0" r="4.2" fill="#9a2020" opacity="0.28"/>
<circle cx="493.6" cy="586.1" r="9.5" fill="url(#gWat)" stroke="#a08080" stroke-opacity="0.35" stroke-width="0.8"/>
<circle cx="494.6" cy="587.1" r="4.3" fill="#9a2020" opacity="0.28"/>
<circle cx="505.1" cy="594.0" r="8.9" fill="url(#gWat)" stroke="#a08080" stroke-opacity="0.35" stroke-width="0.8"/>
<circle cx="506.1" cy="595.0" r="4.0" fill="#9a2020" opacity="0.28"/>
<circle cx="501.4" cy="600.5" r="4.5" fill="url(#gH)"/>
<circle cx="514.3" cy="590.1" r="9.3" fill="url(#gWat)" stroke="#a08080" stroke-opacity="0.35" stroke-width="0.8"/>
<circle cx="515.3" cy="591.1" r="4.2" fill="#9a2020" opacity="0.28"/>
<circle cx="528.6" cy="592.4" r="8.9" fill="url(#gWat)" stroke="#a08080" stroke-opacity="0.35" stroke-width="0.8"/>
<circle cx="529.6" cy="593.4" r="4.0" fill="#9a2020" opacity="0.28"/>
<circle cx="536.2" cy="596.7" r="4.5" fill="url(#gH)"/>
<circle cx="538.4" cy="591.4" r="9.7" fill="url(#gWat)" stroke="#a08080" stroke-opacity="0.35" stroke-width="0.8"/>
<circle cx="539.4" cy="592.4" r="4.4" fill="#9a2020" opacity="0.28"/>
<circle cx="532.8" cy="594.8" r="4.5" fill="url(#gH)"/>
<circle cx="549.8" cy="590.5" r="9.9" fill="url(#gWat)" stroke="#a08080" stroke-opacity="0.35" stroke-width="0.8"/>
<circle cx="550.8" cy="591.5" r="4.5" fill="#9a2020" opacity="0.28"/>
<circle cx="550.3" cy="593.6" r="4.5" fill="url(#gH)"/>
<circle cx="559.8" cy="588.0" r="9.7" fill="url(#gWat)" stroke="#a08080" stroke-opacity="0.35" stroke-width="0.8"/>
<circle cx="560.8" cy="589.0" r="4.4" fill="#9a2020" opacity="0.28"/>
<circle cx="553.3" cy="594.2" r="4.5" fill="url(#gH)"/>
<circle cx="570.0" cy="591.7" r="8.6" fill="url(#gWat)" stroke="#a08080" stroke-opacity="0.35" stroke-width="0.8"/>
<circle cx="571.0" cy="592.7" r="3.9" fill="#9a2020" opacity="0.28"/>
<circle cx="581.2" cy="592.3" r="9.9" fill="url(#gWat)" stroke="#a08080" stroke-opacity="0.35" stroke-width="0.8"/>
<circle cx="582.2" cy="593.3" r="4.5" fill="#9a2020" opacity="0.28"/>
<circle cx="492.7" cy="611.7" r="9.6" fill="url(#gWat)" stroke="#a08080" stroke-opacity="0.35" stroke-width="0.8"/>
<circle cx="493.7" cy="612.7" r="4.3" fill="#9a2020" opacity="0.28"/>
<circle cx="501.1" cy="617.2" r="4.5" fill="url(#gH)"/>
<circle cx="502.1" cy="611.1" r="8.5" fill="url(#gWat)" stroke="#a08080" stroke-opacity="0.35" stroke-width="0.8"/>
<circle cx="503.1" cy="612.1" r="3.8" fill="#9a2020" opacity="0.28"/>
<circle cx="519.4" cy="616.7" r="8.9" fill="url(#gWat)" stroke="#a08080" stroke-opacity="0.35" stroke-width="0.8"/>
<circle cx="520.4" cy="617.7" r="4.0" fill="#9a2020" opacity="0.28"/>
<circle cx="511.7" cy="625.3" r="4.5" fill="url(#gH)"/>
<circle cx="526.1" cy="613.5" r="9.9" fill="url(#gWat)" stroke="#a08080" stroke-opacity="0.35" stroke-width="0.8"/>
<circle cx="527.1" cy="614.5" r="4.5" fill="#9a2020" opacity="0.28"/>
<circle cx="518.2" cy="616.7" r="4.5" fill="url(#gH)"/>
<circle cx="541.8" cy="609.9" r="10.0" fill="url(#gWat)" stroke="#a08080" stroke-opacity="0.35" stroke-width="0.8"/>
<circle cx="542.8" cy="610.9" r="4.5" fill="#9a2020" opacity="0.28"/>
<circle cx="535.5" cy="618.7" r="4.5" fill="url(#gH)"/>
<circle cx="550.8" cy="608.6" r="9.5" fill="url(#gWat)" stroke="#a08080" stroke-opacity="0.35" stroke-width="0.8"/>
<circle cx="551.8" cy="609.6" r="4.3" fill="#9a2020" opacity="0.28"/>
<circle cx="546.3" cy="615.4" r="4.5" fill="url(#gH)"/>
<circle cx="563.7" cy="614.6" r="8.8" fill="url(#gWat)" stroke="#a08080" stroke-opacity="0.35" stroke-width="0.8"/>
<circle cx="564.7" cy="615.6" r="4.0" fill="#9a2020" opacity="0.28"/>
<circle cx="573.1" cy="610.0" r="8.8" fill="url(#gWat)" stroke="#a08080" stroke-opacity="0.35" stroke-width="0.8"/>
<circle cx="574.1" cy="611.0" r="4.0" fill="#9a2020" opacity="0.28"/>
<circle cx="565.4" cy="618.9" r="4.5" fill="url(#gH)"/>
<g opacity="0.8">
<circle cx="538.5" cy="616.5" r="12.0" fill="url(#gG)"/>
</g>
<ellipse cx="517.0" cy="643.5" rx="6" ry="3" fill="#a08830" opacity="0.35"/>
<ellipse cx="531.0" cy="643.5" rx="6" ry="3" fill="#a08830" opacity="0.35"/>
<ellipse cx="551.0" cy="643.5" rx="6" ry="3" fill="#a08830" opacity="0.35"/>
<circle cx="504.0" cy="630.5" r="10.0" fill="url(#gK)"/>
<circle cx="522.0" cy="630.5" r="10.0" fill="url(#gK)"/>
<circle cx="540.0" cy="630.5" r="10.0" fill="url(#gK)"/>
<circle cx="559.0" cy="630.5" r="10.0" fill="url(#gK)"/>
<circle cx="495.1" cy="633.6" r="10.4" fill="url(#gK)"/>
<circle cx="494.8" cy="633.6" r="1" fill="#fff" opacity="0.85"/>
<circle cx="513.7" cy="633.6" r="10.4" fill="url(#gK)"/>
<circle cx="513.4" cy="633.6" r="1" fill="#fff" opacity="0.85"/>
<circle cx="530.6" cy="633.6" r="10.4" fill="url(#gK)"/>
<circle cx="530.3" cy="633.6" r="1" fill="#fff" opacity="0.85"/>
<circle cx="551.7" cy="633.6" r="10.4" fill="url(#gK)"/>
<circle cx="551.4" cy="633.6" r="1" fill="#fff" opacity="0.85"/>
<circle cx="572.0" cy="633.6" r="10.4" fill="url(#gK)"/>
<circle cx="571.7" cy="633.6" r="1" fill="#fff" opacity="0.85"/>
<circle cx="496.0" cy="521.7" r="5.0" fill="url(#gK)"/>
<circle cx="502.6" cy="514.4" r="9.8" fill="url(#gR)"/>
<circle cx="524.6" cy="519.3" r="9.3" fill="url(#gR)"/>
<circle cx="512.4" cy="523.0" r="9.8" fill="url(#gB)"/>
<line x1="494.0" y1="430.6" x2="494.0" y2="656.2" stroke="#3a3a3a" stroke-width="1"/>
<line x1="577.0" y1="430.6" x2="577.0" y2="656.2" stroke="#3a3a3a" stroke-width="1"/>
<path d="M164.7,610.6 Q205,607 243.8,589.2" fill="none" stroke="#000" stroke-width="1.6" marker-end="url(#ah)"/>
<path d="M279.2,572 Q310,528 363,523.6" fill="none" stroke="#000" stroke-width="1.6" marker-end="url(#ah)"/>
<path d="M395.2,511.5 Q445,496 491.6,513.2" fill="none" stroke="#000" stroke-width="1.6" marker-end="url(#ah)"/>
<line x1="70.9" y1="507" x2="70.9" y2="617.5" stroke="#000" stroke-width="1.3"/>
<polygon points="70.9,503.5 67.8,511 74,511" fill="#000"/>
<polygon points="70.9,621 67.8,613.5 74,613.5" fill="#000"/>
<text transform="translate(56,562.3) rotate(-90) scale(1,1.05)" font-size="14.9" text-anchor="middle" fill="#111">~ 15 Å</text>
<text transform="translate(127.5,676.7) scale(1,1.05)" font-size="14.9" text-anchor="middle" fill="#111" stroke="#111" stroke-width="0" font-weight="normal" >Ru-SA*NO<tspan font-size="10.5" dy="4">2</tspan><tspan dy="-4">​</tspan>H</text>
<text transform="translate(262.8,676.7) scale(1,1.05)" font-size="14.9" text-anchor="middle" fill="#111" stroke="#111" stroke-width="0" font-weight="normal" >Free HNO<tspan font-size="10.5" dy="4">2</tspan><tspan dy="-4">​</tspan></text>
<text transform="translate(398.7,676.7) scale(1,1.05)" font-size="14.9" text-anchor="middle" fill="#111" stroke="#111" stroke-width="0" font-weight="normal" >Ru-NP *ONOH</text>
<text transform="translate(533.4,676.7) scale(1,1.05)" font-size="14.9" text-anchor="middle" fill="#111" stroke="#111" stroke-width="0" font-weight="normal" >Ru-NP *ONOH</text>
<rect x="71.6" y="695.5" width="515.6" height="114" fill="none" stroke="#222" stroke-width="1.1"/>
<line x1="67.5" y1="714.6" x2="71.6" y2="714.6" stroke="#222" stroke-width="1.1"/>
<text transform="translate(65.2,719.9) scale(1,1.05)" font-size="14.9" text-anchor="end" fill="#111" stroke="#111" stroke-width="0" font-weight="normal" >0.0</text>
<line x1="67.5" y1="752.6" x2="71.6" y2="752.6" stroke="#222" stroke-width="1.1"/>
<text transform="translate(65.2,757.9) scale(1,1.05)" font-size="14.9" text-anchor="end" fill="#111" stroke="#111" stroke-width="0" font-weight="normal" >-1.0</text>
<line x1="67.5" y1="790.6" x2="71.6" y2="790.6" stroke="#222" stroke-width="1.1"/>
<text transform="translate(65.2,795.9) scale(1,1.05)" font-size="14.9" text-anchor="end" fill="#111" stroke="#111" stroke-width="0" font-weight="normal" >-2.0</text>
<line x1="71.6" y1="809.5" x2="71.6" y2="813.5" stroke="#222" stroke-width="1.1"/>
<text transform="translate(71.6,828.8) scale(1,1.05)" font-size="14.9" text-anchor="middle" fill="#111" stroke="#111" stroke-width="0" font-weight="normal" >0.0</text>
<line x1="243.5" y1="809.5" x2="243.5" y2="813.5" stroke="#222" stroke-width="1.1"/>
<text transform="translate(243.5,828.8) scale(1,1.05)" font-size="14.9" text-anchor="middle" fill="#111" stroke="#111" stroke-width="0" font-weight="normal" >5.0</text>
<line x1="415.3" y1="809.5" x2="415.3" y2="813.5" stroke="#222" stroke-width="1.1"/>
<text transform="translate(415.3,828.8) scale(1,1.05)" font-size="14.9" text-anchor="middle" fill="#111" stroke="#111" stroke-width="0" font-weight="normal" >10.0</text>
<line x1="587.2" y1="809.5" x2="587.2" y2="813.5" stroke="#222" stroke-width="1.1"/>
<text transform="translate(587.2,828.8) scale(1,1.05)" font-size="14.9" text-anchor="middle" fill="#111" stroke="#111" stroke-width="0" font-weight="normal" >15.0</text>
<text transform="translate(329.0,851.2) scale(1,1.05)" font-size="14.9" text-anchor="middle" fill="#111" stroke="#111" stroke-width="0" font-weight="normal" >Distance (Å)</text>
<text transform="translate(31.2,752.5) rotate(-90) scale(1,1.05)" font-size="13.3" text-anchor="middle" fill="#111">Energy / eV</text>
<path d="M71.6,722.4 C72.50,725.82 74.44,739.34 76.1,739.5 C77.76,739.66 78.48,723.30 79.9,723.2 C81.32,723.10 81.58,740.68 83.2,739.0 C84.82,737.32 86.04,719.64 88.0,714.8 C89.96,714.60 90.80,714.60 93.0,714.8 C95.20,721.80 96.80,747.78 99.0,749.8 C101.20,751.82 102.20,726.06 104.0,724.9 C105.80,723.74 106.68,740.18 108.0,744.0 C109.32,746.50 109.40,746.50 110.6,744.0 C111.80,739.78 112.44,720.40 114.0,722.9 C115.56,728.20 116.66,764.30 118.4,770.5 C120.14,773.00 120.78,755.06 122.7,753.9 C124.62,752.74 125.94,765.60 128.0,764.7 C130.06,763.80 131.00,749.90 133.0,749.4 C135.00,748.90 136.34,755.82 138.0,762.2 C139.66,768.58 139.96,779.80 141.3,781.3 C142.64,782.80 143.20,774.02 144.7,769.7 C146.20,765.38 147.64,760.36 148.8,759.7 C149.96,759.04 149.40,768.90 150.5,766.4 C151.60,760.16 152.80,728.84 154.3,728.5 C155.80,728.16 156.78,759.46 158.0,764.7 C159.22,767.20 159.40,754.20 160.4,754.7 C161.40,755.20 161.84,767.60 163.0,767.2 C164.16,766.80 164.72,752.54 166.2,752.7 C167.68,752.86 168.90,765.00 170.4,768.0 C171.90,770.50 172.54,769.02 173.7,767.7 C174.86,766.38 175.20,760.60 176.2,761.4 C177.20,762.20 177.44,769.88 178.7,771.7 C179.96,773.52 181.18,774.20 182.5,770.5 C183.82,766.70 184.24,754.20 185.3,752.7 C186.36,751.20 186.56,765.50 187.8,763.0 C189.04,760.08 190.34,742.90 191.5,738.1 C192.66,735.60 192.68,740.32 193.6,739.0 C194.52,737.68 194.94,730.50 196.1,731.5 C197.26,732.50 197.90,739.94 199.4,744.0 C200.90,748.06 202.10,751.80 203.6,751.8 C205.10,751.80 205.58,742.08 206.9,744.0 C208.22,745.92 208.58,763.90 210.2,761.4 C211.82,755.56 212.84,724.12 215.0,714.8 C217.16,714.60 218.68,714.60 221.0,714.8 C223.32,724.18 224.30,756.54 226.6,761.7 C228.90,764.20 230.90,744.82 232.5,740.6 C234.10,738.10 233.68,742.58 234.6,740.6 C235.52,738.62 236.04,730.92 237.1,730.7 C238.16,730.48 238.74,739.68 239.9,739.5 C241.06,739.32 241.56,728.90 242.9,729.8 C244.24,730.70 245.38,740.96 246.6,744.0 C247.82,747.04 247.84,745.34 249.0,745.0 C250.16,744.66 250.56,747.50 252.4,742.3 C254.24,736.26 255.72,720.30 258.2,714.8 C260.68,714.60 262.48,714.60 264.8,714.8 C267.12,719.64 267.88,738.48 269.8,739.0 C271.72,739.52 272.58,717.40 274.4,717.4 C276.22,717.40 277.42,737.34 278.9,739.0 C280.38,740.66 280.56,725.70 281.8,725.7 C283.04,725.70 283.34,741.00 285.1,739.0 C286.86,737.00 288.52,715.70 290.6,715.7 C292.68,715.70 293.36,739.18 295.5,739.0 C297.64,738.82 296.14,719.64 301.3,714.8 C306.46,714.60 316.32,714.60 321.3,714.8 C326.28,719.64 324.48,736.82 326.2,739.0 C327.92,741.18 328.40,724.94 329.9,725.7 C331.40,726.46 332.10,737.92 333.7,742.8 C335.30,747.68 335.58,752.60 337.9,750.1 C340.22,744.50 342.98,721.86 345.3,714.8 C347.62,714.60 347.66,714.60 349.5,714.8 C351.34,719.64 352.90,736.58 354.5,739.0 C356.10,741.42 356.18,725.90 357.5,726.9 C358.82,727.90 359.54,740.26 361.1,744.0 C362.66,747.74 363.70,743.62 365.3,745.6 C366.90,747.58 367.62,756.22 369.1,753.9 C370.58,751.58 371.48,736.82 372.7,734.0 C373.92,731.50 373.94,742.12 375.2,739.8 C376.46,737.48 377.52,722.52 379.0,722.4 C380.48,722.28 381.24,738.12 382.6,739.2 C383.96,740.28 384.66,727.84 385.8,727.8 C386.94,727.76 386.54,741.50 388.3,739.0 C390.06,736.42 392.20,714.90 394.6,714.9 C397.00,714.90 397.74,739.00 400.3,739.0 C402.86,739.00 404.76,714.90 407.4,714.9 C410.04,714.90 411.28,738.74 413.5,739.0 C415.72,739.26 416.24,715.38 418.5,716.2 C420.76,717.02 422.60,740.20 424.8,743.1 C427.00,745.60 427.66,729.36 429.5,730.7 C431.34,732.04 431.62,752.30 434.0,749.8 C436.38,746.64 435.44,721.88 441.4,714.9 C447.36,714.60 457.66,714.60 463.8,714.9 C469.94,724.70 469.66,757.92 472.1,763.9 C474.54,766.40 473.66,754.60 476.0,744.8 C478.34,735.00 480.50,716.06 483.8,714.9 C487.10,714.60 490.08,737.68 492.5,739.0 C494.92,740.32 494.32,720.84 495.9,721.5 C497.48,722.16 499.02,738.14 500.4,742.3 C501.78,744.80 501.58,744.80 502.8,742.3 C504.02,739.40 505.16,728.46 506.5,727.8 C507.84,727.14 508.18,740.32 509.5,739.0 C510.82,737.68 511.60,721.04 513.1,721.2 C514.60,721.36 515.40,735.92 517.0,739.8 C518.60,743.10 519.78,740.00 521.1,740.6 C522.42,741.20 522.28,739.64 523.6,742.8 C524.92,745.96 526.14,746.78 527.7,756.4 C529.26,766.02 529.90,787.64 531.4,790.9 C532.90,793.40 533.68,774.12 535.2,772.7 C536.72,771.28 537.56,783.40 539.0,783.8 C540.44,784.20 541.00,779.52 542.4,774.7 C543.80,769.88 544.48,770.64 546.0,759.7 C547.52,748.76 548.62,729.02 550.0,720.0 C551.38,714.60 552.32,715.68 552.9,714.6" fill="none" stroke="#c01818" stroke-width="2.1" stroke-linejoin="round"/>
<line x1="141.2" y1="681" x2="141.2" y2="768.4" stroke="#000" stroke-width="1.6"/>
<polyline points="402,679.5 472.2,703.6 472.2,743.5" fill="none" stroke="#000" stroke-width="1.6"/>
<line x1="537.8" y1="678" x2="537.8" y2="772.6" stroke="#000" stroke-width="1.6"/>
<text transform="translate(624.0,429.8) scale(1,1.05)" font-size="18.5" text-anchor="middle" fill="#000" stroke="#000" stroke-width="0" font-weight="bold" >c</text>
<rect x="682.3" y="430.3" width="102.5" height="378.4" fill="none" stroke="#333" stroke-width="1"/>
<line x1="682.3" y1="808.7" x2="682.3" y2="812.7" stroke="#333" stroke-width="1"/>
<text transform="translate(682.3,828.5) scale(1,1.05)" font-size="14.9" text-anchor="middle" fill="#111" stroke="#111" stroke-width="0" font-weight="normal" >-5.0</text>
<line x1="733.5" y1="808.7" x2="733.5" y2="812.7" stroke="#333" stroke-width="1"/>
<text transform="translate(733.5,828.5) scale(1,1.05)" font-size="14.9" text-anchor="middle" fill="#111" stroke="#111" stroke-width="0" font-weight="normal" >0.0</text>
<line x1="784.8" y1="808.7" x2="784.8" y2="812.7" stroke="#333" stroke-width="1"/>
<text transform="translate(784.8,828.5) scale(1,1.05)" font-size="14.9" text-anchor="middle" fill="#111" stroke="#111" stroke-width="0" font-weight="normal" >5.0</text>
<rect x="831.8" y="430.3" width="102.0" height="378.4" fill="none" stroke="#333" stroke-width="1"/>
<line x1="831.8" y1="808.7" x2="831.8" y2="812.7" stroke="#333" stroke-width="1"/>
<text transform="translate(831.8,828.5) scale(1,1.05)" font-size="14.9" text-anchor="middle" fill="#111" stroke="#111" stroke-width="0" font-weight="normal" >-5.0</text>
<line x1="882.8" y1="808.7" x2="882.8" y2="812.7" stroke="#333" stroke-width="1"/>
<text transform="translate(882.8,828.5) scale(1,1.05)" font-size="14.9" text-anchor="middle" fill="#111" stroke="#111" stroke-width="0" font-weight="normal" >0.0</text>
<line x1="933.8" y1="808.7" x2="933.8" y2="812.7" stroke="#333" stroke-width="1"/>
<text transform="translate(933.8,828.5) scale(1,1.05)" font-size="14.9" text-anchor="middle" fill="#111" stroke="#111" stroke-width="0" font-weight="normal" >5.0</text>
<line x1="679.2" y1="430.4" x2="682.3" y2="430.4" stroke="#333" stroke-width="1"/>
<text transform="translate(675.5,435.6) scale(1,1.05)" font-size="14.9" text-anchor="end" fill="#111" stroke="#111" stroke-width="0" font-weight="normal" >5.0</text>
<line x1="679.2" y1="493.4" x2="682.3" y2="493.4" stroke="#333" stroke-width="1"/>
<text transform="translate(675.5,498.6) scale(1,1.05)" font-size="14.9" text-anchor="end" fill="#111" stroke="#111" stroke-width="0" font-weight="normal" >2.5</text>
<line x1="679.2" y1="556.5" x2="682.3" y2="556.5" stroke="#333" stroke-width="1"/>
<text transform="translate(675.5,561.7) scale(1,1.05)" font-size="14.9" text-anchor="end" fill="#111" stroke="#111" stroke-width="0" font-weight="normal" >0.0</text>
<line x1="679.2" y1="619.6" x2="682.3" y2="619.6" stroke="#333" stroke-width="1"/>
<text transform="translate(675.5,624.8) scale(1,1.05)" font-size="14.9" text-anchor="end" fill="#111" stroke="#111" stroke-width="0" font-weight="normal" >-2.5</text>
<line x1="679.2" y1="682.6" x2="682.3" y2="682.6" stroke="#333" stroke-width="1"/>
<text transform="translate(675.5,687.9) scale(1,1.05)" font-size="14.9" text-anchor="end" fill="#111" stroke="#111" stroke-width="0" font-weight="normal" >-5.0</text>
<line x1="679.2" y1="745.7" x2="682.3" y2="745.7" stroke="#333" stroke-width="1"/>
<text transform="translate(675.5,750.9) scale(1,1.05)" font-size="14.9" text-anchor="end" fill="#111" stroke="#111" stroke-width="0" font-weight="normal" >-7.5</text>
<text transform="translate(808.0,851.0) scale(1,1.05)" font-size="14.9" text-anchor="middle" fill="#111" stroke="#111" stroke-width="0" font-weight="normal" >PDOS</text>
<text transform="translate(636.4,629.5) rotate(-90) scale(1,1.05)" font-size="14.9" text-anchor="middle" fill="#111">Energy / eV</text>
<polygon points="733.6,430.0 731.6,437.0 732.6,445.0 731.6,455.0 730.6,462.0 732.6,468.0 731.6,480.0 729.6,488.0 731.6,493.0 730.6,500.0 729.6,508.0 731.6,515.0 728.6,520.0 730.6,525.0 728.6,529.0 721.6,531.0 729.6,534.0 730.6,537.0 730.6,539.0 727.6,541.0 711.6,542.7 729.6,545.0 731.6,548.0 731.6,556.0 731.6,562.0 731.6,565.8 731.6,568.0 730.6,572.0 729.6,580.0 723.6,582.0 706.1,585.0 728.6,587.0 730.6,589.8 730.6,592.0 728.6,598.0 721.6,602.0 727.6,604.0 730.6,606.3 730.6,609.0 725.6,612.0 711.6,615.4 728.6,618.0 729.6,622.0 730.6,626.0 730.6,628.0 729.6,633.0 728.6,638.0 728.6,642.0 730.6,648.0 730.6,652.0 730.6,658.0 729.6,666.0 730.6,675.0 729.6,685.0 730.6,695.0 729.6,705.0 728.6,712.0 730.6,718.0 729.6,730.0 730.6,740.0 730.6,748.0 729.6,755.0 730.6,760.0 728.6,768.0 731.6,775.0 730.6,785.0 730.6,790.0 732.6,800.0 733.6,808.0 733.6,808.0 734.6,800.0 736.6,790.0 736.6,785.0 735.6,775.0 738.6,768.0 736.6,760.0 737.6,755.0 736.6,748.0 737.6,740.0 736.6,730.0 736.6,718.0 738.6,712.0 737.6,705.0 737.6,695.0 736.6,685.0 737.6,675.0 736.6,666.0 736.6,658.0 736.6,652.0 739.6,648.0 736.6,642.0 738.6,638.0 737.6,633.0 737.6,628.0 744.6,626.0 745.6,622.0 749.6,618.0 738.6,615.4 736.6,612.0 736.6,609.0 745.6,606.3 742.6,604.0 739.6,602.0 736.6,598.0 738.6,592.0 758.6,589.8 745.6,587.0 736.6,585.0 736.6,582.0 735.6,580.0 735.6,572.0 738.6,568.0 761.1,565.8 736.6,562.0 735.6,556.0 735.6,548.0 737.6,545.0 736.6,542.7 737.6,541.0 744.6,539.0 741.6,537.0 738.6,534.0 736.6,531.0 736.6,529.0 735.6,525.0 739.6,520.0 736.6,515.0 737.6,508.0 735.6,500.0 738.6,493.0 735.6,488.0 735.6,480.0 734.6,468.0 736.6,462.0 735.6,455.0 737.6,445.0 736.6,437.0 733.6,430.0" fill="url(#gBlueL)" fill-opacity="1" stroke="#26227a" stroke-width="1.1" stroke-linejoin="round"/>
<path d="M733.6,627.4 Q724.0,632.2 701.6,633.4 Q724.0,634.5 733.6,638.9 Z" fill="#f6a8a8" fill-opacity="0.85" stroke="#d03a40" stroke-width="1.0" stroke-linejoin="round"/>
<path d="M733.6,631.0 Q742.3,635.8 762.6,637.0 Q742.3,638.1 733.6,642.5 Z" fill="#f6a8a8" fill-opacity="0.85" stroke="#d03a40" stroke-width="1.0" stroke-linejoin="round"/>
<path d="M733.6,648.2 Q723.7,653.0 700.6,654.2 Q723.7,655.3 733.6,659.7 Z" fill="#f6a8a8" fill-opacity="0.85" stroke="#d03a40" stroke-width="1.0" stroke-linejoin="round"/>
<path d="M733.6,649.4 Q743.5,654.2 766.6,655.4 Q743.5,656.5 733.6,660.9 Z" fill="#f6a8a8" fill-opacity="0.85" stroke="#d03a40" stroke-width="1.0" stroke-linejoin="round"/>
<path d="M733.6,705.8 Q726.7,710.6 710.6,711.8 Q726.7,712.9 733.6,717.3 Z" fill="#f6a8a8" fill-opacity="0.85" stroke="#d03a40" stroke-width="1.0" stroke-linejoin="round"/>
<path d="M733.6,708.9 Q740.4,713.7 756.1,714.9 Q740.4,716.0 733.6,720.4 Z" fill="#f6a8a8" fill-opacity="0.85" stroke="#d03a40" stroke-width="1.0" stroke-linejoin="round"/>
<path d="M733.6,782.2 Q724.7,787.0 704.0,788.2 Q724.7,789.3 733.6,793.7 Z" fill="#f6a8a8" fill-opacity="0.85" stroke="#d03a40" stroke-width="1.0" stroke-linejoin="round"/>
<path d="M733.6,785.0 Q742.3,789.8 762.6,791.0 Q742.3,792.1 733.6,796.5 Z" fill="#f6a8a8" fill-opacity="0.85" stroke="#d03a40" stroke-width="1.0" stroke-linejoin="round"/>
<path d="M733.6,525.0 Q730.0,529.8 721.6,531.0 Q730.0,532.1 733.6,536.5 Z" fill="#f6a8a8" fill-opacity="0.85" stroke="#d03a40" stroke-width="1.0" stroke-linejoin="round"/>
<path d="M733.6,532.0 Q736.9,536.8 744.6,538.0 Q736.9,539.1 733.6,543.5 Z" fill="#f6a8a8" fill-opacity="0.85" stroke="#d03a40" stroke-width="1.0" stroke-linejoin="round"/>
<path d="M733.6,749.6 Q729.4,754.0 719.6,755.1 Q729.4,756.1 733.6,760.1 Z" fill="#f6a8a8" fill-opacity="0.85" stroke="#7a7a30" stroke-width="1.0" stroke-linejoin="round"/>
<path d="M733.6,752.8 Q738.0,757.2 748.1,758.3 Q738.0,759.3 733.6,763.3 Z" fill="#f6a8a8" fill-opacity="0.85" stroke="#7a7a30" stroke-width="1.0" stroke-linejoin="round"/>
<path d="M733.6,763.0 Q729.0,767.4 718.2,768.5 Q729.0,769.5 733.6,773.5 Z" fill="#f6a8a8" fill-opacity="0.85" stroke="#7a7a30" stroke-width="1.0" stroke-linejoin="round"/>
<path d="M733.6,765.4 Q738.7,769.8 750.6,770.9 Q738.7,771.9 733.6,775.9 Z" fill="#f6a8a8" fill-opacity="0.85" stroke="#7a7a30" stroke-width="1.0" stroke-linejoin="round"/>
<path d="M733.6,783.7 Q730.2,787.3 722.3,788.2 Q730.2,789.0 733.6,792.2 Z" fill="none" fill-opacity="1" stroke="#7a8a30" stroke-width="1.0" stroke-linejoin="round"/>
<path d="M733.6,786.5 Q736.8,790.1 744.4,791.0 Q736.8,791.8 733.6,795.0 Z" fill="none" fill-opacity="1" stroke="#7a8a30" stroke-width="1.0" stroke-linejoin="round"/>
<path d="M733.6,527 L745.1,537.5 L733.6,546 Z" fill="#c8b0ec" stroke="#343090" stroke-width="0.9"/>
<path d="M733.6,525 L721.6,531 L733.6,541 Z" fill="#c8b0ec" stroke="#5a7a30" stroke-width="0.9"/>
<path d="M733.6,433 L739.6,441 L733.6,450 L728.6,440 Z" fill="#c8b0ec" stroke="#8a8a30" stroke-width="0.9"/>
<ellipse cx="733.6" cy="714" rx="3.5" ry="5" fill="#c0a0e8" stroke="#343090" stroke-width="0.8"/>
<ellipse cx="733.6" cy="756" rx="3.5" ry="5" fill="#c0a0e8" stroke="#343090" stroke-width="0.8"/>
<ellipse cx="733.6" cy="770" rx="3.5" ry="5" fill="#c0a0e8" stroke="#343090" stroke-width="0.8"/>
<ellipse cx="733.6" cy="790" rx="3.5" ry="5" fill="#c0a0e8" stroke="#343090" stroke-width="0.8"/>
<line x1="733.6" y1="430.5" x2="733.6" y2="808.5" stroke="#3c7a2c" stroke-width="1.3"/>
<text transform="translate(735.0,449.8) scale(1,1.05)" font-size="14.9" text-anchor="middle" fill="#111" stroke="#111" stroke-width="0" font-weight="normal" >RuS<tspan font-size="10.5" dy="4">4</tspan><tspan dy="-4">​</tspan>-NO<tspan font-size="10.5" dy="4">2</tspan><tspan dy="-4">​</tspan>H</text>
<line x1="687" y1="469" x2="703.2" y2="469" stroke="#4a46a8" stroke-width="1.8"/>
<text transform="translate(710.5,474.4) scale(1,1.05)" font-size="14.9" text-anchor="start" fill="#111" stroke="#111" stroke-width="0" font-weight="normal" >N</text>
<line x1="687" y1="486" x2="703.2" y2="486" stroke="#a01818" stroke-width="1.8"/>
<text transform="translate(710.5,491.4) scale(1,1.05)" font-size="14.9" text-anchor="start" fill="#111" stroke="#111" stroke-width="0" font-weight="normal" >O</text>
<line x1="687" y1="502.8" x2="703.2" y2="502.8" stroke="#3a7a2a" stroke-width="1.8"/>
<text transform="translate(710.5,508.2) scale(1,1.05)" font-size="14.9" text-anchor="start" fill="#111" stroke="#111" stroke-width="0" font-weight="normal" >Ru</text>
<text transform="translate(699.6,801) rotate(-90)" font-size="14.7" text-anchor="start" fill="#111">Electrostatic</text>
<path d="M882.8,487.5 C882.0,488.9 878.9,493.7 877.8,496.2 C876.7,498.7 876.1,500.5 876.3,502.5 C876.5,504.5 879.6,506.4 878.8,508.0 C878.0,509.6 872.5,510.7 871.5,512.0 C870.5,513.3 872.8,514.4 873.0,515.9 C873.2,517.4 874.2,519.1 872.8,521.0 C871.4,522.9 865.1,524.7 864.4,527.0 C863.7,529.3 867.8,532.6 868.4,534.8 C869.0,537.0 869.0,538.0 867.8,540.0 C866.6,542.0 860.5,544.9 861.3,546.6 C862.1,548.3 869.9,548.7 872.8,550.0 C875.7,551.3 878.4,553.2 878.6,554.5 C878.8,555.8 875.0,556.4 873.8,558.0 C872.6,559.6 872.5,562.6 871.5,564.0 C870.5,565.4 867.8,564.6 867.6,566.3 C867.3,568.0 870.3,571.8 870.0,574.2 C869.7,576.6 865.9,578.5 866.0,580.5 C866.1,582.5 870.3,584.2 870.8,586.0 C871.3,587.8 869.7,589.5 869.2,591.5 C868.7,593.5 868.0,595.4 867.6,597.8 C867.2,600.2 867.6,603.7 866.8,605.7 C866.0,607.7 864.6,608.4 862.8,610.0 C861.0,611.6 855.5,613.7 855.8,615.2 C856.1,616.7 862.2,617.4 864.8,619.0 C867.4,620.6 870.7,623.1 871.5,624.6 C872.3,626.1 870.3,626.7 869.8,628.0 C869.3,629.3 867.9,631.2 868.4,632.5 C868.9,633.8 871.9,634.7 872.8,636.0 C873.7,637.3 873.5,638.8 873.9,640.4 C874.3,642.0 876.0,644.0 875.0,645.9 C874.0,647.8 870.3,649.9 867.8,652.0 C865.2,654.1 859.2,656.7 859.7,658.5 C860.2,660.3 867.5,661.3 870.8,663.0 C874.1,664.7 878.4,667.3 879.4,668.8 C880.4,670.3 877.6,670.4 876.8,672.0 C876.0,673.6 875.7,676.1 874.8,678.2 C873.9,680.3 871.9,682.4 871.5,684.5 C871.1,686.6 872.4,688.6 872.3,691.0 C872.2,693.4 870.4,696.9 870.7,698.9 C870.9,700.9 872.9,701.5 873.8,703.0 C874.7,704.5 875.6,706.1 876.3,707.6 C877.0,709.1 876.7,710.3 877.8,712.0 C878.9,713.7 882.0,716.8 882.8,717.8 L882.8,717.8 C883.6,716.8 886.8,713.7 887.8,712.0 C888.8,710.3 888.4,709.1 888.9,707.6 C889.4,706.1 889.9,704.5 890.8,703.0 C891.7,701.5 894.1,700.9 894.4,698.9 C894.7,696.9 892.8,693.4 892.8,691.0 C892.8,688.6 894.7,686.6 894.4,684.5 C894.1,682.4 891.7,680.3 890.8,678.2 C889.9,676.1 889.8,673.6 888.8,672.0 C887.8,670.4 883.9,670.3 884.9,668.8 C885.9,667.3 891.4,664.7 894.8,663.0 C898.2,661.3 904.9,660.3 905.4,658.5 C905.9,656.7 900.4,654.1 897.8,652.0 C895.2,649.9 891.0,647.8 890.0,645.9 C889.0,644.0 891.7,642.0 892.0,640.4 C892.3,638.8 891.1,637.3 891.8,636.0 C892.5,634.7 895.7,633.8 896.0,632.5 C896.3,631.2 894.5,629.3 893.8,628.0 C893.1,626.7 891.2,626.1 892.0,624.6 C892.8,623.1 895.9,620.6 898.8,619.0 C901.7,617.4 909.1,616.7 909.4,615.2 C909.7,613.7 902.9,611.6 900.8,610.0 C898.7,608.4 897.5,607.7 896.7,605.7 C895.9,603.7 896.6,600.2 896.0,597.8 C895.4,595.4 893.0,593.5 892.8,591.5 C892.6,589.5 893.8,587.8 894.8,586.0 C895.8,584.2 899.0,582.5 899.1,580.5 C899.2,578.5 895.5,576.6 895.2,574.2 C894.9,571.8 897.5,568.0 897.5,566.3 C897.5,564.6 896.3,565.4 895.2,564.0 C894.1,562.6 892.4,559.6 890.8,558.0 C889.2,556.4 885.7,555.8 885.7,554.5 C885.7,553.2 887.6,551.3 890.8,550.0 C893.9,548.7 903.6,548.3 904.6,546.6 C905.6,544.9 898.8,542.0 896.8,540.0 C894.8,538.0 892.1,537.0 892.8,534.8 C893.4,532.6 901.2,529.3 900.7,527.0 C900.2,524.7 892.0,522.9 889.8,521.0 C887.6,519.1 886.7,517.4 887.3,515.9 C887.9,514.4 893.7,513.3 893.6,512.0 C893.5,510.7 887.8,509.6 886.8,508.0 C885.8,506.4 887.8,504.5 887.8,502.5 C887.8,500.5 887.3,498.7 886.5,496.2 C885.7,493.7 883.4,488.9 882.8,487.5 Z" fill="url(#gBlueR)" fill-opacity="1" stroke="#26227a" stroke-width="1.25" stroke-linejoin="round"/>
<polygon points="882.8,528.0 878.8,533.0 876.8,537.0 879.8,540.0 879.8,545.0 878.8,550.0 880.8,555.0 882.8,558.0 882.8,558.0 887.8,555.0 885.8,550.0 888.8,545.0 887.8,540.0 885.8,537.0 884.8,533.0 882.8,528.0" fill="#e8b0c8" fill-opacity="0.9" stroke="#a03040" stroke-width="1.0" stroke-linejoin="round"/>
<polygon points="882.8,640.0 878.8,645.0 877.8,650.0 878.8,655.0 878.8,660.0 880.8,666.0 882.8,668.8 882.8,668.8 885.8,666.0 886.8,660.0 887.8,655.0 887.8,650.0 885.8,645.0 882.8,640.0" fill="#e8b0c8" fill-opacity="0.9" stroke="#d03a40" stroke-width="1.0" stroke-linejoin="round"/>
<path d="M863.3,679 L873,675.5 Q878,673 882.8,671.5 Q888,673 892.5,675.5 L900.3,679.7 L892.5,682.5 Q886,686 882.8,691 Q879,686 873,682.5 Z" fill="#f6a8a8" stroke="#d03a40" stroke-width="1"/>
<path d="M873,676 L882.8,671.5 L892.5,676 L892.5,682 Q886,685.5 882.8,690.5 Q879,685.5 873,682 Z" fill="#d098c8" stroke="#d03a40" stroke-width="0.9"/>
<path d="M882.8,686 Q882.8,695 881.8,700" fill="none" stroke="#d03a40" stroke-width="1"/>
<path d="M882.8,720.0 Q875.6,725.2 858.9,726.5 Q875.6,727.8 882.8,733.0 Z" fill="#f6a8a8" fill-opacity="0.85" stroke="#d03a40" stroke-width="1.0" stroke-linejoin="round"/>
<path d="M882.8,720.0 Q889.8,725.2 906.2,726.5 Q889.8,727.8 882.8,733.0 Z" fill="#f6a8a8" fill-opacity="0.85" stroke="#d03a40" stroke-width="1.0" stroke-linejoin="round"/>
<path d="M882.8,750.7 Q875.4,755.9 858.1,757.2 Q875.4,758.5 882.8,763.7 Z" fill="#f6a8a8" fill-opacity="0.85" stroke="#d03a40" stroke-width="1.0" stroke-linejoin="round"/>
<path d="M882.8,755.5 Q890.1,760.7 907.0,762.0 Q890.1,763.3 882.8,768.5 Z" fill="#f6a8a8" fill-opacity="0.85" stroke="#d03a40" stroke-width="1.0" stroke-linejoin="round"/>
<path d="M882.8,771.2 Q874.3,776.4 854.5,777.7 Q874.3,779.0 882.8,784.2 Z" fill="#f6a8a8" fill-opacity="0.85" stroke="#d03a40" stroke-width="1.0" stroke-linejoin="round"/>
<path d="M882.8,771.2 Q891.2,776.4 910.9,777.7 Q891.2,779.0 882.8,784.2 Z" fill="#f6a8a8" fill-opacity="0.85" stroke="#d03a40" stroke-width="1.0" stroke-linejoin="round"/>
<path d="M882.8,722.0 Q879.2,725.6 870.8,726.5 Q879.2,727.4 882.8,731.0 Z" fill="none" fill-opacity="1" stroke="#5a7a28" stroke-width="1.0" stroke-linejoin="round"/>
<path d="M882.8,722.0 Q886.4,725.6 894.8,726.5 Q886.4,727.4 882.8,731.0 Z" fill="none" fill-opacity="1" stroke="#5a7a28" stroke-width="1.0" stroke-linejoin="round"/>
<path d="M882.8,752.7 Q879.2,756.3 870.8,757.2 Q879.2,758.1 882.8,761.7 Z" fill="none" fill-opacity="1" stroke="#5a7a28" stroke-width="1.0" stroke-linejoin="round"/>
<path d="M882.8,757.5 Q886.4,761.1 894.8,762.0 Q886.4,762.9 882.8,766.5 Z" fill="none" fill-opacity="1" stroke="#5a7a28" stroke-width="1.0" stroke-linejoin="round"/>
<path d="M882.8,773.2 Q879.8,776.8 872.8,777.7 Q879.8,778.6 882.8,782.2 Z" fill="none" fill-opacity="1" stroke="#5a7a28" stroke-width="1.0" stroke-linejoin="round"/>
<path d="M882.8,773.2 Q885.8,776.8 892.8,777.7 Q885.8,778.6 882.8,782.2 Z" fill="none" fill-opacity="1" stroke="#5a7a28" stroke-width="1.0" stroke-linejoin="round"/>
<ellipse cx="882.8" cy="726.5" rx="3.5" ry="4.5" fill="#d090d8" stroke="#343090" stroke-width="0.8"/>
<ellipse cx="882.8" cy="777.7" rx="3.5" ry="4.5" fill="#d090d8" stroke="#343090" stroke-width="0.8"/>
<line x1="882.8" y1="430.5" x2="882.8" y2="458" stroke="#e07080" stroke-width="1.3"/>
<line x1="883.0" y1="455" x2="883.0" y2="490" stroke="#58a050" stroke-width="1.2"/>
<line x1="883.0" y1="480" x2="883.0" y2="720" stroke="#e8a0b0" stroke-width="3.2" opacity="0.6"/>
<line x1="883.0" y1="487" x2="883.0" y2="720" stroke="#2e6a22" stroke-width="1.7"/>
<line x1="883.0" y1="718" x2="883.0" y2="808.5" stroke="#4a9a40" stroke-width="1.2"/>
<text transform="translate(881.0,448.9) scale(1,1.05)" font-size="14.9" text-anchor="middle" fill="#111" stroke="#111" stroke-width="0" font-weight="normal" >Ru–ONOH</text>
<text transform="translate(850.4,800) rotate(-90)" font-size="14.5" text-anchor="start" fill="#111">Covalent</text>
<polyline points="900,679.4 926.5,679.4 939.2,663.8" fill="none" stroke="#000" stroke-width="1.6"/>
<polyline points="893.2,699.7 925.6,699.7 936.4,712.4" fill="none" stroke="#000" stroke-width="1.6"/>
<circle cx="949.3" cy="520.9" r="1.1" fill="#111"/>
<circle cx="954" cy="517.6" r="1.1" fill="#111"/>
<line x1="963.2" y1="538.7" x2="963.8" y2="538.3" stroke="#111" stroke-width="1"/>
<line x1="960.7" y1="536.2" x2="962.0" y2="535.2" stroke="#111" stroke-width="1"/>
<line x1="958.2" y1="533.6" x2="960.2" y2="532.0" stroke="#111" stroke-width="1"/>
<line x1="955.7" y1="531.0" x2="958.4" y2="528.9" stroke="#111" stroke-width="1"/>
<line x1="953.1" y1="528.4" x2="956.6" y2="525.8" stroke="#111" stroke-width="1"/>
<line x1="950.6" y1="525.9" x2="954.8" y2="522.7" stroke="#111" stroke-width="1"/>
<polygon points="969.5,539.5 977.4,532.3 973.8,529.7" fill="#111"/>
<ellipse cx="955.2" cy="545.9" rx="6.4" ry="5.1" transform="rotate(0 955.2 545.9)" fill="url(#gLobe)" stroke="#707070" stroke-width="0.9"/>
<ellipse cx="977.6" cy="545.9" rx="6.4" ry="5.1" transform="rotate(0 977.6 545.9)" fill="#fff" stroke="#707070" stroke-width="0.9"/>
<ellipse cx="955.2" cy="569.6" rx="6.4" ry="4.4" transform="rotate(0 955.2 569.6)" fill="url(#gLobe)" stroke="#707070" stroke-width="0.9"/>
<ellipse cx="977.6" cy="569.6" rx="6.4" ry="4.4" transform="rotate(0 977.6 569.6)" fill="#fff" stroke="#707070" stroke-width="0.9"/>
<line x1="954.4" y1="550" x2="954.4" y2="585" stroke="#666" stroke-width="0.9" stroke-dasharray="2.2 1.6"/>
<line x1="978.3" y1="550" x2="978.3" y2="585" stroke="#666" stroke-width="0.9" stroke-dasharray="2.2 1.6"/>
<ellipse cx="957.0" cy="587.0" rx="8.8" ry="5.6" transform="rotate(45 957.0 587.0)" fill="url(#gLobe)" stroke="#707070" stroke-width="0.9"/>
<ellipse cx="976.0" cy="587.0" rx="8.8" ry="5.6" transform="rotate(-45 976.0 587.0)" fill="#fff" stroke="#707070" stroke-width="0.9"/>
<ellipse cx="957.0" cy="606.5" rx="8.8" ry="5.6" transform="rotate(-45 957.0 606.5)" fill="#fff" stroke="#707070" stroke-width="0.9"/>
<ellipse cx="976.0" cy="606.5" rx="8.8" ry="5.6" transform="rotate(45 976.0 606.5)" fill="url(#gLobe)" stroke="#707070" stroke-width="0.9"/>
<line x1="964.2" y1="552" x2="964.2" y2="562.8" stroke="#111" stroke-width="1.2"/>
<line x1="968.2" y1="552" x2="968.2" y2="562.8" stroke="#111" stroke-width="1.2"/>
<polygon points="966.2,577.7 964.2,591.0 968.2,591.0" fill="#111"/>
<text transform="translate(983.0,529.0) scale(1,1.05)" font-size="12.5" text-anchor="middle" fill="#c8283a" stroke="#c8283a" stroke-width="0" font-weight="bold" >OH</text>
<text transform="translate(966.2,550.3) scale(1,1.05)" font-size="12.5" text-anchor="middle" fill="#3a3a9a" stroke="#3a3a9a" stroke-width="0" font-weight="bold" >N</text>
<text transform="translate(966.2,574.0) scale(1,1.05)" font-size="12.5" text-anchor="middle" fill="#c8283a" stroke="#c8283a" stroke-width="0" font-weight="bold" >O</text>
<text transform="translate(965.8,602.2) scale(1,1.05)" font-size="12.5" text-anchor="middle" fill="#000" stroke="#000" stroke-width="0" font-weight="bold" >Ru</text>
<circle cx="937.8" cy="635" r="1.1" fill="#111"/>
<circle cx="940.5" cy="631" r="1.1" fill="#111"/>
<circle cx="937.6" cy="672.7" r="1.1" fill="#111"/>
<circle cx="940" cy="677" r="1.1" fill="#111"/>
<line x1="943.2" y1="635.7" x2="953.4" y2="641.7" stroke="#111" stroke-width="1.2"/>
<line x1="953" y1="668" x2="943" y2="672" stroke="#111" stroke-width="1.2"/>
<circle cx="961.5" cy="642.5" r="7.5" fill="url(#gLobe)" stroke="#707070" stroke-width="0.9"/>
<circle cx="959.4" cy="644.4" r="7.5" fill="#fff" stroke="#707070" stroke-width="0.9"/>
<circle cx="961.5" cy="662" r="8" fill="url(#gLobe)" stroke="#707070" stroke-width="0.9"/>
<circle cx="959.4" cy="664" r="8" fill="#fff" stroke="#708070" stroke-width="0.9"/>
<line x1="966" y1="640" x2="971" y2="637" stroke="#111" stroke-width="1.2"/>
<line x1="959.4" y1="650" x2="959.4" y2="656" stroke="#111" stroke-width="1.2"/>
<circle cx="979.5" cy="670.5" r="8" fill="url(#gLobe)" stroke="#707070" stroke-width="0.9"/>
<circle cx="977.7" cy="672.1" r="8" fill="#fff" stroke="#707070" stroke-width="0.9"/>
<circle cx="993.5" cy="681.6" r="9.5" fill="url(#gLobe)" stroke="#707070" stroke-width="0.9"/>
<line x1="965" y1="668" x2="975" y2="674" stroke="#111" stroke-width="1.2"/>
<text transform="translate(979.3,640.8) scale(1,1.05)" font-size="12.5" text-anchor="middle" fill="#c8283a" stroke="#c8283a" stroke-width="0" font-weight="bold" >OH</text>
<text transform="translate(958.2,648.9) scale(1,1.05)" font-size="12.5" text-anchor="middle" fill="#3a3a9a" stroke="#3a3a9a" stroke-width="0" font-weight="normal" >N</text>
<text transform="translate(959.4,668.4) scale(1,1.05)" font-size="12.5" text-anchor="middle" fill="#c8283a" stroke="#c8283a" stroke-width="0" font-weight="normal" >O</text>
<text transform="translate(982.4,683.5) scale(1,1.05)" font-size="12.5" text-anchor="middle" fill="#000" stroke="#000" stroke-width="0" font-weight="bold" >Ru</text>
<circle cx="944.6" cy="700.8" r="1.1" fill="#111"/>
<circle cx="950" cy="697.5" r="1.1" fill="#111"/>
<line x1="959.1" y1="719.4" x2="959.7" y2="719.0" stroke="#111" stroke-width="1"/>
<line x1="956.9" y1="716.8" x2="958.3" y2="715.9" stroke="#111" stroke-width="1"/>
<line x1="954.8" y1="714.2" x2="956.9" y2="712.8" stroke="#111" stroke-width="1"/>
<line x1="952.6" y1="711.6" x2="955.5" y2="709.8" stroke="#111" stroke-width="1"/>
<line x1="950.4" y1="709.0" x2="954.1" y2="706.7" stroke="#111" stroke-width="1"/>
<line x1="948.3" y1="706.4" x2="952.7" y2="703.6" stroke="#111" stroke-width="1"/>
<polygon points="962.5,721.0 971.4,711.2 967.6,708.8" fill="#111"/>
<ellipse cx="960.8" cy="740.0" rx="4.5" ry="8" transform="rotate(0 960.8 740.0)" fill="url(#gLobe)" stroke="#707070" stroke-width="0.9"/>
<ellipse cx="960.8" cy="762.0" rx="4.5" ry="7" transform="rotate(0 960.8 762.0)" fill="url(#gLobe)" stroke="#707070" stroke-width="0.9"/>
<ellipse cx="960.8" cy="776.0" rx="4.5" ry="7" transform="rotate(0 960.8 776.0)" fill="#fff" stroke="#707070" stroke-width="0.9"/>
<ellipse cx="948.6" cy="792.0" rx="8.5" ry="5.5" transform="rotate(0 948.6 792.0)" fill="#fff" stroke="#707070" stroke-width="0.9"/>
<ellipse cx="972.9" cy="792.0" rx="8.5" ry="5.5" transform="rotate(0 972.9 792.0)" fill="#fff" stroke="#707070" stroke-width="0.9"/>
<ellipse cx="960.8" cy="780.0" rx="5.5" ry="7.5" transform="rotate(0 960.8 780.0)" fill="url(#gLobe)" stroke="#707070" stroke-width="0.9"/>
<ellipse cx="960.8" cy="803.0" rx="5.5" ry="7.5" transform="rotate(0 960.8 803.0)" fill="url(#gLobe)" stroke="#707070" stroke-width="0.9"/>
<line x1="959" y1="733" x2="959" y2="744" stroke="#111" stroke-width="1.4"/>
<line x1="962.6" y1="733" x2="962.6" y2="744" stroke="#111" stroke-width="1.4"/>
<polygon points="960.8,756.0 959.0,786.0 962.6,786.0" fill="#111"/>
<text transform="translate(977.0,710.0) scale(1,1.05)" font-size="12.5" text-anchor="middle" fill="#c8283a" stroke="#c8283a" stroke-width="0" font-weight="bold" >OH</text>
<text transform="translate(960.8,730.4) scale(1,1.05)" font-size="12.5" text-anchor="middle" fill="#3a3a9a" stroke="#3a3a9a" stroke-width="0" font-weight="bold" >N</text>
<text transform="translate(960.2,753.4) scale(1,1.05)" font-size="12.5" text-anchor="middle" fill="#c8283a" stroke="#c8283a" stroke-width="0" font-weight="normal" >O</text>
<text transform="translate(960.8,796.5) scale(1,1.05)" font-size="12.5" text-anchor="middle" fill="#000" stroke="#000" stroke-width="0" font-weight="bold" >Ru</text>
</svg></body></html>
